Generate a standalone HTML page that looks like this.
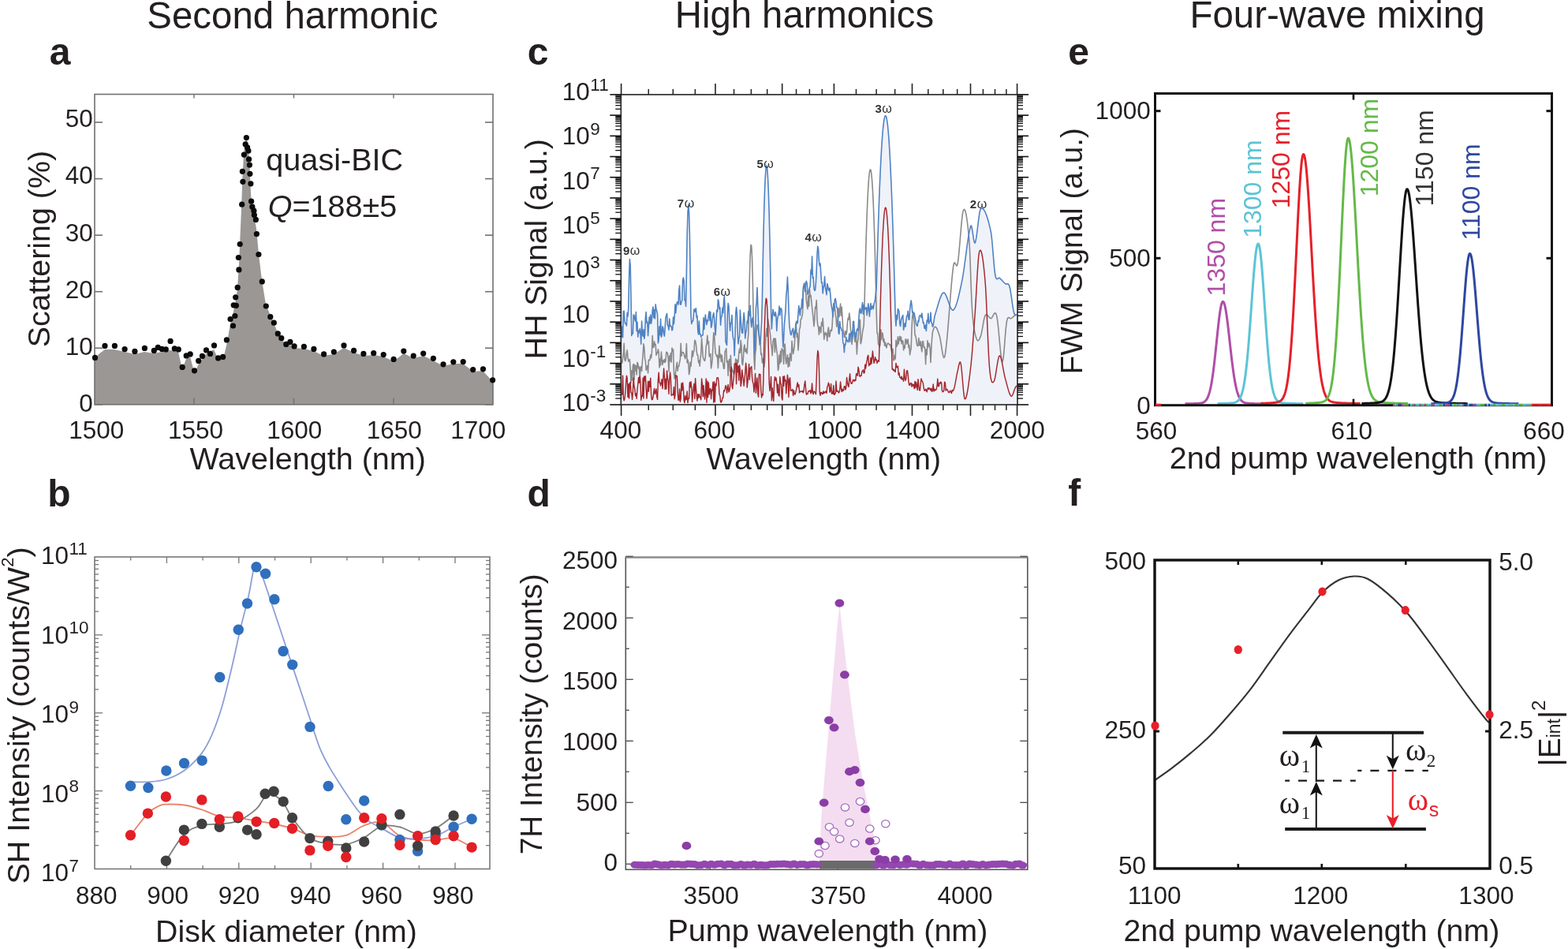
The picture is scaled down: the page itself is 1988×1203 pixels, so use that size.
<!DOCTYPE html>
<html><head><meta charset="utf-8"><title>Nonlinear optics figure</title>
<style>html,body{margin:0;padding:0;background:#fff;}svg{display:block;}</style>
</head><body>
<svg width="1988" height="1203" viewBox="0 0 1988 1203" font-family="'Liberation Sans', Arial, Helvetica, sans-serif" fill="#231f20">
<rect width="1988" height="1203" fill="#fff"/>
<text x="186.33" y="35.8" font-size="47.44">Second harmonic</text>
<text x="855.82" y="34.8" font-size="47.25">High harmonics</text>
<text x="1508.51" y="35.1" font-size="47.42">Four-wave mixing</text>
<text x="62.66" y="81.5" font-size="48" font-weight="bold">a</text>
<text x="60.24" y="641.5" font-size="48" font-weight="bold">b</text>
<text x="668.68" y="81.5" font-size="48" font-weight="bold">c</text>
<text x="668.38" y="641.5" font-size="48" font-weight="bold">d</text>
<text x="1354.18" y="81.5" font-size="48" font-weight="bold">e</text>
<text x="1354.34" y="640.7" font-size="48" font-weight="bold">f</text>
<text x="240.5" y="594.6" font-size="39.53">Wavelength (nm)</text>
<text x="197.06" y="1193.7" font-size="39.29">Disk diameter (nm)</text>
<text x="895.51" y="595" font-size="39.28">Wavelength (nm)</text>
<text x="846.54" y="1193.3" font-size="39.47">Pump wavelength (nm)</text>
<text x="1482.72" y="593.9" font-size="39.5">2nd pump wavelength (nm)</text>
<text x="1424.43" y="1193.4" font-size="39.37">2nd pump wavelength (nm)</text>
<text transform="translate(63.2,440.37) rotate(-90)" font-size="39.37">Scattering (%)</text>
<text transform="translate(693.1,455.44) rotate(-90)" font-size="39.28">HH Signal (a.u.)</text>
<text transform="translate(686.8,1083.34) rotate(-90)" font-size="38.84">7H Intensity (counts)</text>
<text transform="translate(1371.8,474.4) rotate(-90)" font-size="38.78">FWM Signal (a.u.)</text>
<text x="337.32" y="216" font-size="39.61">quasi-BIC</text>
<polygon points="120,512.8 120,456 125,449 133,443 145,443 158,446 171,449 183,446 195,448 205,446 216,444 226,446 231,468 236,455 241,452 246.5,473 252,461 261,449 271,443 277,456 283,455 288,434 292,410 296,395 299,380 301,366 303,335 304.5,300 306,265 307.5,225 309,195 311,178 313,176 315,190 316.5,210 317.5,235 319,260 322,272 325,290 328,322 332,355 337,386 343,400 347,409 352,422 357,430 363,437 368,437 373,441 385,442 398,445 410,451 423,449 436,441 449,447 461,451 474,450 486,452 499,458 512,448 524,454 537,451 549,457 562,464 575,461 587,461 600,471 612,470 625,484 625,512.8" fill="#9b9794"/>
<rect x="120" y="119.5" width="505" height="393.29999999999995" fill="none" stroke="#707070" stroke-width="1.6"/>
<line x1="120" y1="512.8" x2="130" y2="512.8" stroke="#707070" stroke-width="1.6"/>
<line x1="615" y1="512.8" x2="625" y2="512.8" stroke="#707070" stroke-width="1.6"/>
<line x1="120" y1="441.25" x2="130" y2="441.25" stroke="#707070" stroke-width="1.6"/>
<line x1="615" y1="441.25" x2="625" y2="441.25" stroke="#707070" stroke-width="1.6"/>
<line x1="120" y1="369.7" x2="130" y2="369.7" stroke="#707070" stroke-width="1.6"/>
<line x1="615" y1="369.7" x2="625" y2="369.7" stroke="#707070" stroke-width="1.6"/>
<line x1="120" y1="298.15" x2="130" y2="298.15" stroke="#707070" stroke-width="1.6"/>
<line x1="615" y1="298.15" x2="625" y2="298.15" stroke="#707070" stroke-width="1.6"/>
<line x1="120" y1="226.6" x2="130" y2="226.6" stroke="#707070" stroke-width="1.6"/>
<line x1="615" y1="226.6" x2="625" y2="226.6" stroke="#707070" stroke-width="1.6"/>
<line x1="120" y1="155.05" x2="130" y2="155.05" stroke="#707070" stroke-width="1.6"/>
<line x1="615" y1="155.05" x2="625" y2="155.05" stroke="#707070" stroke-width="1.6"/>
<line x1="246" y1="119.5" x2="246" y2="124.5" stroke="#707070" stroke-width="1.4"/>
<line x1="246" y1="504.8" x2="246" y2="512.8" stroke="#707070" stroke-width="1.4"/>
<line x1="372.5" y1="119.5" x2="372.5" y2="124.5" stroke="#707070" stroke-width="1.4"/>
<line x1="372.5" y1="504.8" x2="372.5" y2="512.8" stroke="#707070" stroke-width="1.4"/>
<line x1="499" y1="119.5" x2="499" y2="124.5" stroke="#707070" stroke-width="1.4"/>
<line x1="499" y1="504.8" x2="499" y2="512.8" stroke="#707070" stroke-width="1.4"/>
<circle cx="120.5" cy="453.4" r="3.6" fill="#0b0b0b"/>
<circle cx="133" cy="438.4" r="3.6" fill="#0b0b0b"/>
<circle cx="145.4" cy="438.4" r="3.6" fill="#0b0b0b"/>
<circle cx="158.1" cy="442.7" r="3.6" fill="#0b0b0b"/>
<circle cx="170.9" cy="445.4" r="3.6" fill="#0b0b0b"/>
<circle cx="183.4" cy="441.4" r="3.6" fill="#0b0b0b"/>
<circle cx="195.3" cy="444.4" r="3.6" fill="#0b0b0b"/>
<circle cx="200.3" cy="440.4" r="3.6" fill="#0b0b0b"/>
<circle cx="205.3" cy="442.4" r="3.6" fill="#0b0b0b"/>
<circle cx="210.3" cy="442.9" r="3.6" fill="#0b0b0b"/>
<circle cx="216.1" cy="432.4" r="3.6" fill="#0b0b0b"/>
<circle cx="221.3" cy="441.9" r="3.6" fill="#0b0b0b"/>
<circle cx="226.3" cy="442.9" r="3.6" fill="#0b0b0b"/>
<circle cx="231.2" cy="465.4" r="3.6" fill="#0b0b0b"/>
<circle cx="236.2" cy="450.9" r="3.6" fill="#0b0b0b"/>
<circle cx="241.2" cy="448.9" r="3.6" fill="#0b0b0b"/>
<circle cx="246.5" cy="469.8" r="3.6" fill="#0b0b0b"/>
<circle cx="251.7" cy="457.4" r="3.6" fill="#0b0b0b"/>
<circle cx="256.5" cy="451.4" r="3.6" fill="#0b0b0b"/>
<circle cx="261.5" cy="443.9" r="3.6" fill="#0b0b0b"/>
<circle cx="266.5" cy="448.4" r="3.6" fill="#0b0b0b"/>
<circle cx="271.5" cy="437.9" r="3.6" fill="#0b0b0b"/>
<circle cx="276.6" cy="453.9" r="3.6" fill="#0b0b0b"/>
<circle cx="282.6" cy="452.4" r="3.6" fill="#0b0b0b"/>
<circle cx="287.4" cy="430.9" r="3.6" fill="#0b0b0b"/>
<circle cx="292.1" cy="404.5" r="3.6" fill="#0b0b0b"/>
<circle cx="295.5" cy="413" r="3.6" fill="#0b0b0b"/>
<circle cx="297.9" cy="400.5" r="3.6" fill="#0b0b0b"/>
<circle cx="296.2" cy="386.8" r="3.6" fill="#0b0b0b"/>
<circle cx="299.4" cy="387.3" r="3.6" fill="#0b0b0b"/>
<circle cx="298.7" cy="376.8" r="3.6" fill="#0b0b0b"/>
<circle cx="301.2" cy="364.4" r="3.6" fill="#0b0b0b"/>
<circle cx="302.9" cy="341.9" r="3.6" fill="#0b0b0b"/>
<circle cx="302.4" cy="326.5" r="3.6" fill="#0b0b0b"/>
<circle cx="304.2" cy="309.5" r="3.6" fill="#0b0b0b"/>
<circle cx="306.7" cy="259.2" r="3.6" fill="#0b0b0b"/>
<circle cx="307.9" cy="230.3" r="3.6" fill="#0b0b0b"/>
<circle cx="307.4" cy="217.3" r="3.6" fill="#0b0b0b"/>
<circle cx="309.4" cy="196.1" r="3.6" fill="#0b0b0b"/>
<circle cx="311.2" cy="182.9" r="3.6" fill="#0b0b0b"/>
<circle cx="312.4" cy="174.5" r="3.6" fill="#0b0b0b"/>
<circle cx="313.6" cy="186.9" r="3.6" fill="#0b0b0b"/>
<circle cx="314.9" cy="191.2" r="3.6" fill="#0b0b0b"/>
<circle cx="315.6" cy="201.9" r="3.6" fill="#0b0b0b"/>
<circle cx="316.4" cy="209.1" r="3.6" fill="#0b0b0b"/>
<circle cx="316.9" cy="220.3" r="3.6" fill="#0b0b0b"/>
<circle cx="317.9" cy="232.8" r="3.6" fill="#0b0b0b"/>
<circle cx="318.6" cy="255.2" r="3.6" fill="#0b0b0b"/>
<circle cx="319.9" cy="262.2" r="3.6" fill="#0b0b0b"/>
<circle cx="321.9" cy="267.2" r="3.6" fill="#0b0b0b"/>
<circle cx="322.4" cy="272.6" r="3.6" fill="#0b0b0b"/>
<circle cx="324.4" cy="278.4" r="3.6" fill="#0b0b0b"/>
<circle cx="325.4" cy="296.6" r="3.6" fill="#0b0b0b"/>
<circle cx="327.9" cy="322.5" r="3.6" fill="#0b0b0b"/>
<circle cx="332.3" cy="356.9" r="3.6" fill="#0b0b0b"/>
<circle cx="337.3" cy="388" r="3.6" fill="#0b0b0b"/>
<circle cx="342.8" cy="401.7" r="3.6" fill="#0b0b0b"/>
<circle cx="347.3" cy="409.2" r="3.6" fill="#0b0b0b"/>
<circle cx="352.3" cy="422.9" r="3.6" fill="#0b0b0b"/>
<circle cx="356.8" cy="428.7" r="3.6" fill="#0b0b0b"/>
<circle cx="362.8" cy="436.4" r="3.6" fill="#0b0b0b"/>
<circle cx="367.9" cy="433.4" r="3.6" fill="#0b0b0b"/>
<circle cx="373.1" cy="438.9" r="3.6" fill="#0b0b0b"/>
<circle cx="385.4" cy="439.4" r="3.6" fill="#0b0b0b"/>
<circle cx="397.9" cy="442.4" r="3.6" fill="#0b0b0b"/>
<circle cx="410.6" cy="448.9" r="3.6" fill="#0b0b0b"/>
<circle cx="423.3" cy="446.1" r="3.6" fill="#0b0b0b"/>
<circle cx="436" cy="437.9" r="3.6" fill="#0b0b0b"/>
<circle cx="448.6" cy="444.4" r="3.6" fill="#0b0b0b"/>
<circle cx="460.9" cy="448.4" r="3.6" fill="#0b0b0b"/>
<circle cx="473.7" cy="447.7" r="3.6" fill="#0b0b0b"/>
<circle cx="486.2" cy="449.6" r="3.6" fill="#0b0b0b"/>
<circle cx="499.1" cy="455.4" r="3.6" fill="#0b0b0b"/>
<circle cx="511.8" cy="445.1" r="3.6" fill="#0b0b0b"/>
<circle cx="524.2" cy="451.1" r="3.6" fill="#0b0b0b"/>
<circle cx="536.7" cy="448.1" r="3.6" fill="#0b0b0b"/>
<circle cx="549.4" cy="454.3" r="3.6" fill="#0b0b0b"/>
<circle cx="562" cy="461.8" r="3.6" fill="#0b0b0b"/>
<circle cx="574.8" cy="458.8" r="3.6" fill="#0b0b0b"/>
<circle cx="587.2" cy="458.6" r="3.6" fill="#0b0b0b"/>
<circle cx="599.7" cy="468.6" r="3.6" fill="#0b0b0b"/>
<circle cx="612.5" cy="467.8" r="3.6" fill="#0b0b0b"/>
<circle cx="624.6" cy="481.8" r="3.6" fill="#0b0b0b"/>
<text x="117.9" y="522.4" font-size="31.5" text-anchor="end">0</text>
<text x="117.9" y="450.17" font-size="31.5" text-anchor="end">10</text>
<text x="117.9" y="377.94" font-size="31.5" text-anchor="end">20</text>
<text x="117.9" y="305.71" font-size="31.5" text-anchor="end">30</text>
<text x="117.9" y="233.48" font-size="31.5" text-anchor="end">40</text>
<text x="117.9" y="161.25" font-size="31.5" text-anchor="end">50</text>
<text x="122.2" y="555.9" font-size="31.5" text-anchor="middle">1500</text>
<text x="248" y="555.9" font-size="31.5" text-anchor="middle">1550</text>
<text x="373.3" y="555.9" font-size="31.5" text-anchor="middle">1600</text>
<text x="499.7" y="555.9" font-size="31.5" text-anchor="middle">1650</text>
<text x="606.3" y="555.9" font-size="31.5" text-anchor="middle">1700</text>
<text x="339.8" y="275" font-size="39.5"><tspan font-style="italic">Q</tspan>=188±5</text>
<rect x="120" y="706" width="501" height="395.5" fill="none" stroke="#777777" stroke-width="1.6"/>
<line x1="120" y1="1071.74" x2="125" y2="1071.74" stroke="#777777" stroke-width="1.3"/>
<line x1="616" y1="1071.74" x2="621" y2="1071.74" stroke="#777777" stroke-width="1.3"/>
<line x1="120" y1="1054.32" x2="125" y2="1054.32" stroke="#777777" stroke-width="1.3"/>
<line x1="616" y1="1054.32" x2="621" y2="1054.32" stroke="#777777" stroke-width="1.3"/>
<line x1="120" y1="1041.97" x2="125" y2="1041.97" stroke="#777777" stroke-width="1.3"/>
<line x1="616" y1="1041.97" x2="621" y2="1041.97" stroke="#777777" stroke-width="1.3"/>
<line x1="120" y1="1032.39" x2="125" y2="1032.39" stroke="#777777" stroke-width="1.3"/>
<line x1="616" y1="1032.39" x2="621" y2="1032.39" stroke="#777777" stroke-width="1.3"/>
<line x1="120" y1="1024.56" x2="125" y2="1024.56" stroke="#777777" stroke-width="1.3"/>
<line x1="616" y1="1024.56" x2="621" y2="1024.56" stroke="#777777" stroke-width="1.3"/>
<line x1="120" y1="1017.94" x2="125" y2="1017.94" stroke="#777777" stroke-width="1.3"/>
<line x1="616" y1="1017.94" x2="621" y2="1017.94" stroke="#777777" stroke-width="1.3"/>
<line x1="120" y1="1012.21" x2="125" y2="1012.21" stroke="#777777" stroke-width="1.3"/>
<line x1="616" y1="1012.21" x2="621" y2="1012.21" stroke="#777777" stroke-width="1.3"/>
<line x1="120" y1="1007.15" x2="125" y2="1007.15" stroke="#777777" stroke-width="1.3"/>
<line x1="616" y1="1007.15" x2="621" y2="1007.15" stroke="#777777" stroke-width="1.3"/>
<line x1="120" y1="1002.62" x2="130" y2="1002.62" stroke="#777777" stroke-width="1.3"/>
<line x1="611" y1="1002.62" x2="621" y2="1002.62" stroke="#777777" stroke-width="1.3"/>
<line x1="120" y1="972.86" x2="125" y2="972.86" stroke="#777777" stroke-width="1.3"/>
<line x1="616" y1="972.86" x2="621" y2="972.86" stroke="#777777" stroke-width="1.3"/>
<line x1="120" y1="955.45" x2="125" y2="955.45" stroke="#777777" stroke-width="1.3"/>
<line x1="616" y1="955.45" x2="621" y2="955.45" stroke="#777777" stroke-width="1.3"/>
<line x1="120" y1="943.1" x2="125" y2="943.1" stroke="#777777" stroke-width="1.3"/>
<line x1="616" y1="943.1" x2="621" y2="943.1" stroke="#777777" stroke-width="1.3"/>
<line x1="120" y1="933.51" x2="125" y2="933.51" stroke="#777777" stroke-width="1.3"/>
<line x1="616" y1="933.51" x2="621" y2="933.51" stroke="#777777" stroke-width="1.3"/>
<line x1="120" y1="925.69" x2="125" y2="925.69" stroke="#777777" stroke-width="1.3"/>
<line x1="616" y1="925.69" x2="621" y2="925.69" stroke="#777777" stroke-width="1.3"/>
<line x1="120" y1="919.07" x2="125" y2="919.07" stroke="#777777" stroke-width="1.3"/>
<line x1="616" y1="919.07" x2="621" y2="919.07" stroke="#777777" stroke-width="1.3"/>
<line x1="120" y1="913.33" x2="125" y2="913.33" stroke="#777777" stroke-width="1.3"/>
<line x1="616" y1="913.33" x2="621" y2="913.33" stroke="#777777" stroke-width="1.3"/>
<line x1="120" y1="908.27" x2="125" y2="908.27" stroke="#777777" stroke-width="1.3"/>
<line x1="616" y1="908.27" x2="621" y2="908.27" stroke="#777777" stroke-width="1.3"/>
<line x1="120" y1="903.75" x2="130" y2="903.75" stroke="#777777" stroke-width="1.3"/>
<line x1="611" y1="903.75" x2="621" y2="903.75" stroke="#777777" stroke-width="1.3"/>
<line x1="120" y1="873.99" x2="125" y2="873.99" stroke="#777777" stroke-width="1.3"/>
<line x1="616" y1="873.99" x2="621" y2="873.99" stroke="#777777" stroke-width="1.3"/>
<line x1="120" y1="856.57" x2="125" y2="856.57" stroke="#777777" stroke-width="1.3"/>
<line x1="616" y1="856.57" x2="621" y2="856.57" stroke="#777777" stroke-width="1.3"/>
<line x1="120" y1="844.22" x2="125" y2="844.22" stroke="#777777" stroke-width="1.3"/>
<line x1="616" y1="844.22" x2="621" y2="844.22" stroke="#777777" stroke-width="1.3"/>
<line x1="120" y1="834.64" x2="125" y2="834.64" stroke="#777777" stroke-width="1.3"/>
<line x1="616" y1="834.64" x2="621" y2="834.64" stroke="#777777" stroke-width="1.3"/>
<line x1="120" y1="826.81" x2="125" y2="826.81" stroke="#777777" stroke-width="1.3"/>
<line x1="616" y1="826.81" x2="621" y2="826.81" stroke="#777777" stroke-width="1.3"/>
<line x1="120" y1="820.19" x2="125" y2="820.19" stroke="#777777" stroke-width="1.3"/>
<line x1="616" y1="820.19" x2="621" y2="820.19" stroke="#777777" stroke-width="1.3"/>
<line x1="120" y1="814.46" x2="125" y2="814.46" stroke="#777777" stroke-width="1.3"/>
<line x1="616" y1="814.46" x2="621" y2="814.46" stroke="#777777" stroke-width="1.3"/>
<line x1="120" y1="809.4" x2="125" y2="809.4" stroke="#777777" stroke-width="1.3"/>
<line x1="616" y1="809.4" x2="621" y2="809.4" stroke="#777777" stroke-width="1.3"/>
<line x1="120" y1="804.88" x2="130" y2="804.88" stroke="#777777" stroke-width="1.3"/>
<line x1="611" y1="804.88" x2="621" y2="804.88" stroke="#777777" stroke-width="1.3"/>
<line x1="120" y1="775.11" x2="125" y2="775.11" stroke="#777777" stroke-width="1.3"/>
<line x1="616" y1="775.11" x2="621" y2="775.11" stroke="#777777" stroke-width="1.3"/>
<line x1="120" y1="757.7" x2="125" y2="757.7" stroke="#777777" stroke-width="1.3"/>
<line x1="616" y1="757.7" x2="621" y2="757.7" stroke="#777777" stroke-width="1.3"/>
<line x1="120" y1="745.35" x2="125" y2="745.35" stroke="#777777" stroke-width="1.3"/>
<line x1="616" y1="745.35" x2="621" y2="745.35" stroke="#777777" stroke-width="1.3"/>
<line x1="120" y1="735.76" x2="125" y2="735.76" stroke="#777777" stroke-width="1.3"/>
<line x1="616" y1="735.76" x2="621" y2="735.76" stroke="#777777" stroke-width="1.3"/>
<line x1="120" y1="727.94" x2="125" y2="727.94" stroke="#777777" stroke-width="1.3"/>
<line x1="616" y1="727.94" x2="621" y2="727.94" stroke="#777777" stroke-width="1.3"/>
<line x1="120" y1="721.32" x2="125" y2="721.32" stroke="#777777" stroke-width="1.3"/>
<line x1="616" y1="721.32" x2="621" y2="721.32" stroke="#777777" stroke-width="1.3"/>
<line x1="120" y1="715.58" x2="125" y2="715.58" stroke="#777777" stroke-width="1.3"/>
<line x1="616" y1="715.58" x2="621" y2="715.58" stroke="#777777" stroke-width="1.3"/>
<line x1="120" y1="710.52" x2="125" y2="710.52" stroke="#777777" stroke-width="1.3"/>
<line x1="616" y1="710.52" x2="621" y2="710.52" stroke="#777777" stroke-width="1.3"/>
<line x1="165.7" y1="706" x2="165.7" y2="710.5" stroke="#777777" stroke-width="1.3"/>
<line x1="165.7" y1="1097" x2="165.7" y2="1101.5" stroke="#777777" stroke-width="1.3"/>
<line x1="211.4" y1="706" x2="211.4" y2="714" stroke="#777777" stroke-width="1.3"/>
<line x1="211.4" y1="1093.5" x2="211.4" y2="1101.5" stroke="#777777" stroke-width="1.3"/>
<line x1="257.1" y1="706" x2="257.1" y2="710.5" stroke="#777777" stroke-width="1.3"/>
<line x1="257.1" y1="1097" x2="257.1" y2="1101.5" stroke="#777777" stroke-width="1.3"/>
<line x1="302.8" y1="706" x2="302.8" y2="714" stroke="#777777" stroke-width="1.3"/>
<line x1="302.8" y1="1093.5" x2="302.8" y2="1101.5" stroke="#777777" stroke-width="1.3"/>
<line x1="348.5" y1="706" x2="348.5" y2="710.5" stroke="#777777" stroke-width="1.3"/>
<line x1="348.5" y1="1097" x2="348.5" y2="1101.5" stroke="#777777" stroke-width="1.3"/>
<line x1="394.2" y1="706" x2="394.2" y2="714" stroke="#777777" stroke-width="1.3"/>
<line x1="394.2" y1="1093.5" x2="394.2" y2="1101.5" stroke="#777777" stroke-width="1.3"/>
<line x1="439.9" y1="706" x2="439.9" y2="710.5" stroke="#777777" stroke-width="1.3"/>
<line x1="439.9" y1="1097" x2="439.9" y2="1101.5" stroke="#777777" stroke-width="1.3"/>
<line x1="485.6" y1="706" x2="485.6" y2="714" stroke="#777777" stroke-width="1.3"/>
<line x1="485.6" y1="1093.5" x2="485.6" y2="1101.5" stroke="#777777" stroke-width="1.3"/>
<line x1="531.3" y1="706" x2="531.3" y2="710.5" stroke="#777777" stroke-width="1.3"/>
<line x1="531.3" y1="1097" x2="531.3" y2="1101.5" stroke="#777777" stroke-width="1.3"/>
<line x1="577" y1="706" x2="577" y2="714" stroke="#777777" stroke-width="1.3"/>
<line x1="577" y1="1093.5" x2="577" y2="1101.5" stroke="#777777" stroke-width="1.3"/>
<path d="M165.5,1058.8 C169.15,1054.18 181.35,1037.32 187.4,1031.1 C193.45,1024.88 197.97,1023.42 201.8,1021.5 C205.63,1019.58 205.15,1019.77 210.4,1019.6 C215.65,1019.43 225.72,1019.38 233.3,1020.5 C240.88,1021.62 248.4,1023.9 255.9,1026.3 C263.4,1028.7 270.65,1033.15 278.3,1034.9 C285.95,1036.65 294,1035.85 301.8,1036.8 C309.6,1037.75 317.45,1039.32 325.1,1040.6 C332.75,1041.88 340.13,1042.9 347.7,1044.5 C355.27,1046.1 362.97,1047.82 370.5,1050.2 C378.03,1052.58 385.35,1057.05 392.9,1058.8 C400.45,1060.55 408.15,1060.7 415.8,1060.7 C423.45,1060.7 431.15,1061.18 438.8,1058.8 C446.45,1056.42 454.18,1049.12 461.7,1046.4 C469.22,1043.68 476.37,1040.28 483.9,1042.5 C491.43,1044.72 499.28,1056.03 506.9,1059.7 C514.52,1063.37 522.05,1063.6 529.6,1064.5 C537.15,1065.4 544.62,1065.42 552.2,1065.1 C559.78,1064.78 567.45,1061.1 575.1,1062.6 C582.75,1064.1 594.27,1072.18 598.1,1074.1" fill="none" stroke="#e9836d" stroke-width="1.8"/>
<path d="M210.4,1091.3 C214.22,1085.72 225.72,1065.28 233.3,1057.8 C240.88,1050.32 248.4,1048.62 255.9,1046.4 C263.4,1044.18 270.65,1045.47 278.3,1044.5 C285.95,1043.53 294,1043.8 301.8,1040.6 C309.6,1037.4 319.37,1030.4 325.1,1025.3 C330.83,1020.2 332.53,1012.87 336.2,1010 C339.87,1007.13 343.27,1006.82 347.1,1008.1 C350.93,1009.38 355.32,1012.92 359.2,1017.7 C363.08,1022.48 364.78,1029.32 370.4,1036.8 C376.02,1044.28 385.33,1057.18 392.9,1062.6 C400.47,1068.02 408.15,1068.02 415.8,1069.3 C423.45,1070.58 431.15,1071.57 438.8,1070.3 C446.45,1069.03 454.18,1065.53 461.7,1061.7 C469.22,1057.87 476.37,1049.53 483.9,1047.3 C491.43,1045.07 499.28,1046.7 506.9,1048.3 C514.52,1049.9 522.05,1056.58 529.6,1056.9 C537.15,1057.22 544.62,1054.03 552.2,1050.2 C559.78,1046.37 571.28,1036.62 575.1,1033.9" fill="none" stroke="#7d7d7d" stroke-width="1.8"/>
<path d="M165.5,991.2 C169.37,991.2 180.98,991.82 188.7,991.2 C196.42,990.58 204.08,990.08 211.8,987.5 C219.52,984.92 227.7,981.1 235,975.7 C242.3,970.3 250.02,962.4 255.6,955.1 C261.18,947.8 264.2,941.78 268.5,931.9 C272.8,922.02 277.1,910.4 281.4,895.8 C285.7,881.2 290.43,860.62 294.3,844.3 C298.17,827.98 301.17,812.5 304.6,797.9 C308.03,783.3 312.12,769.15 314.9,756.7 C317.68,744.25 319.58,729.55 321.3,723.2 C323.02,716.85 323.47,717.75 325.2,718.6 C326.93,719.45 329.12,722.38 331.7,728.3 C334.28,734.22 337.48,744.65 340.7,754.1 C343.92,763.55 347.57,774.68 351,785 C354.43,795.32 357.87,805.68 361.3,816 C364.73,826.32 368.17,836.6 371.6,846.9 C375.03,857.2 378.47,867.5 381.9,877.8 C385.33,888.1 388.33,897.1 392.2,908.7 C396.07,920.3 400.8,936.67 405.1,947.4 C409.4,958.13 412.77,963.93 418,973.1 C423.23,982.27 430.55,993.38 436.5,1002.4 C442.45,1011.42 448.6,1020.83 453.7,1027.2 C458.8,1033.57 462,1036.77 467.1,1040.6 C472.2,1044.43 477.67,1046.63 484.3,1050.2 C490.93,1053.77 499.35,1059.83 506.9,1062 C514.45,1064.17 522.05,1063.58 529.6,1063.2 C537.15,1062.82 544.62,1062.18 552.2,1059.7 C559.78,1057.22 567.45,1051.87 575.1,1048.3 C582.75,1044.73 594.27,1039.97 598.1,1038.3" fill="none" stroke="#8d9fd6" stroke-width="1.8"/>
<circle cx="165.5" cy="996.2" r="6.7" fill="#2f6fbd"/>
<circle cx="187.9" cy="998.5" r="6.7" fill="#2f6fbd"/>
<circle cx="210.8" cy="977" r="6.7" fill="#2f6fbd"/>
<circle cx="233.5" cy="967.5" r="6.7" fill="#2f6fbd"/>
<circle cx="256.2" cy="964.1" r="6.7" fill="#2f6fbd"/>
<circle cx="278.7" cy="858.5" r="6.7" fill="#2f6fbd"/>
<circle cx="302.3" cy="798.2" r="6.7" fill="#2f6fbd"/>
<circle cx="313.5" cy="765" r="6.7" fill="#2f6fbd"/>
<circle cx="325" cy="718.7" r="6.7" fill="#2f6fbd"/>
<circle cx="336.6" cy="727.3" r="6.7" fill="#2f6fbd"/>
<circle cx="347.9" cy="759.8" r="6.7" fill="#2f6fbd"/>
<circle cx="359.1" cy="825.5" r="6.7" fill="#2f6fbd"/>
<circle cx="370.7" cy="842.6" r="6.7" fill="#2f6fbd"/>
<circle cx="393" cy="921.4" r="6.7" fill="#2f6fbd"/>
<circle cx="416.2" cy="996.5" r="6.7" fill="#2f6fbd"/>
<circle cx="438.8" cy="1038.7" r="6.7" fill="#2f6fbd"/>
<circle cx="461.7" cy="1015" r="6.7" fill="#2f6fbd"/>
<circle cx="483.9" cy="1046" r="6.7" fill="#2f6fbd"/>
<circle cx="506.9" cy="1064.5" r="6.7" fill="#2f6fbd"/>
<circle cx="529.6" cy="1078.9" r="6.7" fill="#2f6fbd"/>
<circle cx="552.2" cy="1058.8" r="6.7" fill="#2f6fbd"/>
<circle cx="575.1" cy="1048.3" r="6.7" fill="#2f6fbd"/>
<circle cx="598.1" cy="1038.3" r="6.7" fill="#2f6fbd"/>
<circle cx="210.4" cy="1091.3" r="6.7" fill="#404040"/>
<circle cx="233.3" cy="1052.1" r="6.7" fill="#404040"/>
<circle cx="255.9" cy="1044.4" r="6.7" fill="#404040"/>
<circle cx="278.3" cy="1048.3" r="6.7" fill="#404040"/>
<circle cx="301.8" cy="1036.8" r="6.7" fill="#404040"/>
<circle cx="313.6" cy="1052.1" r="6.7" fill="#404040"/>
<circle cx="325.1" cy="1057.8" r="6.7" fill="#404040"/>
<circle cx="336.2" cy="1006.2" r="6.7" fill="#404040"/>
<circle cx="347.1" cy="1003.3" r="6.7" fill="#404040"/>
<circle cx="359.2" cy="1016.1" r="6.7" fill="#404040"/>
<circle cx="370.5" cy="1036.8" r="6.7" fill="#404040"/>
<circle cx="392.9" cy="1062.6" r="6.7" fill="#404040"/>
<circle cx="415.8" cy="1066.4" r="6.7" fill="#404040"/>
<circle cx="438.8" cy="1075" r="6.7" fill="#404040"/>
<circle cx="461.7" cy="1067" r="6.7" fill="#404040"/>
<circle cx="483.9" cy="1045.4" r="6.7" fill="#404040"/>
<circle cx="506.9" cy="1032.4" r="6.7" fill="#404040"/>
<circle cx="529.6" cy="1072.2" r="6.7" fill="#404040"/>
<circle cx="552.2" cy="1054" r="6.7" fill="#404040"/>
<circle cx="575.1" cy="1034" r="6.7" fill="#404040"/>
<circle cx="165.5" cy="1058.8" r="6.7" fill="#e31e25"/>
<circle cx="187.4" cy="1031.1" r="6.7" fill="#e31e25"/>
<circle cx="210.4" cy="1010" r="6.7" fill="#e31e25"/>
<circle cx="233.3" cy="1065.5" r="6.7" fill="#e31e25"/>
<circle cx="255.9" cy="1013.9" r="6.7" fill="#e31e25"/>
<circle cx="278.3" cy="1038.7" r="6.7" fill="#e31e25"/>
<circle cx="301.8" cy="1034.9" r="6.7" fill="#e31e25"/>
<circle cx="325.1" cy="1041.6" r="6.7" fill="#e31e25"/>
<circle cx="347.7" cy="1043.5" r="6.7" fill="#e31e25"/>
<circle cx="370.5" cy="1050.2" r="6.7" fill="#e31e25"/>
<circle cx="392.9" cy="1077.9" r="6.7" fill="#e31e25"/>
<circle cx="415.8" cy="1072.2" r="6.7" fill="#e31e25"/>
<circle cx="438.8" cy="1086.5" r="6.7" fill="#e31e25"/>
<circle cx="461.7" cy="1036.8" r="6.7" fill="#e31e25"/>
<circle cx="483.9" cy="1037.8" r="6.7" fill="#e31e25"/>
<circle cx="506.9" cy="1071.2" r="6.7" fill="#e31e25"/>
<circle cx="529.6" cy="1059.7" r="6.7" fill="#e31e25"/>
<circle cx="552.2" cy="1064.5" r="6.7" fill="#e31e25"/>
<circle cx="575.1" cy="1059.7" r="6.7" fill="#e31e25"/>
<circle cx="598.1" cy="1074.1" r="6.7" fill="#e31e25"/>
<text x="87.1" y="1117.3" font-size="31.5" text-anchor="end">10</text>
<text x="87.5" y="1105" font-size="22.5">7</text>
<text x="87.1" y="1016.7" font-size="31.5" text-anchor="end">10</text>
<text x="87.5" y="1004.4" font-size="22.5">8</text>
<text x="87.1" y="916.1" font-size="31.5" text-anchor="end">10</text>
<text x="87.5" y="903.8" font-size="22.5">9</text>
<text x="87.1" y="815.5" font-size="31.5" text-anchor="end">10</text>
<text x="87.5" y="803.2" font-size="22.5">10</text>
<text x="87.1" y="714.9" font-size="31.5" text-anchor="end">10</text>
<text x="87.5" y="702.6" font-size="22.5">11</text>
<text x="122.25" y="1146.2" font-size="31.5" text-anchor="middle">880</text>
<text x="212.65" y="1146.2" font-size="31.5" text-anchor="middle">900</text>
<text x="303.05" y="1146.2" font-size="31.5" text-anchor="middle">920</text>
<text x="393.45" y="1146.2" font-size="31.5" text-anchor="middle">940</text>
<text x="483.85" y="1146.2" font-size="31.5" text-anchor="middle">960</text>
<text x="574.25" y="1146.2" font-size="31.5" text-anchor="middle">980</text>
<text transform="translate(36.8,907) rotate(-90)" font-size="39.5" text-anchor="middle">SH Intensity (counts/W<tspan dy="-20" font-size="22">2</tspan><tspan dy="20">)</tspan></text>
<polygon points="788,513 788,427.73 788.8,414.1 789.6,427.76 790.4,394.61 791.2,394.31 792,407.36 792.8,410.39 793.6,410.03 794.4,413.03 795.2,396.53 796,401.03 796.8,390.36 797.6,352.6 798.4,328.6 799.2,336.6 800,376.6 800.8,425.37 801.6,422.32 802.4,422.8 803.2,398.96 804,399.57 804.8,404.92 805.6,407.18 806.4,395.63 807.2,419.75 808,408.28 808.8,427.1 809.6,419.35 810.4,421.84 811.2,416.78 812,422.85 812.8,436.2 813.6,407.03 814.4,423.31 815.2,426.2 816,417.67 816.8,429.47 817.6,424.77 818.4,402.65 819.2,395.43 820,409.37 820.8,407.87 821.6,425.72 822.4,414.04 823.2,402.14 824,410.09 824.8,399.14 825.6,410.05 826.4,405.19 827.2,393.65 828,388.96 828.8,402.66 829.6,392.63 830.4,403.99 831.2,385.74 832,391.93 832.8,394.37 833.6,398.34 834.4,434.97 835.2,430.77 836,413.86 836.8,424.59 837.6,404.24 838.4,427.23 839.2,425.06 840,413.9 840.8,415.9 841.6,423.54 842.4,426.1 843.2,415.36 844,402.78 844.8,399.77 845.6,397.44 846.4,411.91 847.2,413.23 848,418.18 848.8,404.11 849.6,413.44 850.4,413.11 851.2,413.77 852,418.99 852.8,417.24 853.6,401.98 854.4,410.59 855.2,400.74 856,385.83 856.8,396.61 857.6,387.4 858.4,383.21 859.2,382.74 860,386.07 860.8,368.16 861.6,361.99 862.4,385.54 863.2,386.17 864,382.12 864.8,380.59 865.6,355.1 866.4,351.96 867.2,356.36 868,380.69 868.8,380.23 869.6,388.47 870.4,345.01 871.2,297.67 872,269.27 872.8,259.8 873.6,269.27 874.4,297.67 875.2,345.01 876,398.91 876.8,410.49 877.6,407.31 878.4,407.28 879.2,401.68 880,392.01 880.8,392.06 881.6,395.41 882.4,390.79 883.2,402.46 884,400.4 884.8,419.88 885.6,423.94 886.4,407.04 887.2,423.34 888,423.26 888.8,427.09 889.6,425.31 890.4,425.22 891.2,424.65 892,402.72 892.8,417.4 893.6,406.35 894.4,399.13 895.2,406.41 896,411.53 896.8,405.68 897.6,407.04 898.4,399.12 899.2,394.82 900,406.29 900.8,395.49 901.6,415.25 902.4,412.84 903.2,405.12 904,399.85 904.8,396.51 905.6,403.95 906.4,415.92 907.2,424.65 908,408.84 908.8,393.11 909.6,395.14 910.4,379.85 911.2,382.45 912,391.78 912.8,389.77 913.6,412.1 914.4,402.1 915.2,400.83 916,390.23 916.8,396.63 917.6,381.94 918.4,375.33 919.2,395.16 920,433.04 920.8,435.6 921.6,437.43 922.4,396.08 923.2,384.51 924,388.11 924.8,406.59 925.6,419.11 926.4,409.74 927.2,409.73 928,399.43 928.8,421.36 929.6,429.21 930.4,430.03 931.2,450.95 932,426.49 932.8,396.77 933.6,389.43 934.4,396.72 935.2,420.67 936,436.02 936.8,429.5 937.6,426.43 938.4,393.02 939.2,406.18 940,416.07 940.8,422.27 941.6,422.21 942.4,405.45 943.2,396.55 944,405.04 944.8,428.9 945.6,421.55 946.4,418.42 947.2,407.06 948,409.38 948.8,394.69 949.6,398.81 950.4,400.22 951.2,387.34 952,407.2 952.8,414.69 953.6,404.96 954.4,402.6 955.2,410.4 956,418.94 956.8,448.17 957.6,430.38 958.4,390.45 959.2,383.58 960,364.63 960.8,386.95 961.6,408.39 962.4,424.55 963.2,431 964,436 964.8,420.82 965.6,408.05 966.4,381.49 967.2,335.23 968,296.22 968.8,264.48 969.6,239.99 970.4,222.76 971.2,212.78 972,210.06 972.8,214.59 973.6,226.38 974.4,245.43 975.2,271.73 976,305.29 976.8,346.11 977.6,394.18 978.4,416.95 979.2,402.64 980,392.31 980.8,396.04 981.6,400.02 982.4,400.48 983.2,395.62 984,400.98 984.8,419.49 985.6,405.3 986.4,400.8 987.2,397.23 988,388.05 988.8,399.78 989.6,390.71 990.4,391.04 991.2,393.82 992,420.66 992.8,439.63 993.6,430.35 994.4,411.59 995.2,402.46 996,392.83 996.8,374.47 997.6,366.5 998.4,351.07 999.2,366.37 1000,393.93 1000.8,411.75 1001.6,418.48 1002.4,423.91 1003.2,424.56 1004,420.05 1004.8,417.78 1005.6,416.22 1006.4,427.77 1007.2,423.07 1008,418.77 1008.8,422.33 1009.6,407.91 1010.4,407.15 1011.2,409.68 1012,397.57 1012.8,387.61 1013.6,394.49 1014.4,399.84 1015.2,390.6 1016,391.4 1016.8,379.19 1017.6,389.25 1018.4,363.9 1019.2,362.49 1020,360.76 1020.8,369.67 1021.6,358.53 1022.4,356.36 1023.2,359.46 1024,373.53 1024.8,370.26 1025.6,368.82 1026.4,364.55 1027.2,363.4 1028,342.3 1028.8,347.63 1029.6,325.09 1030.4,352.28 1031.2,351.46 1032,365.67 1032.8,368.39 1033.6,367.67 1034.4,358.69 1035.2,343.64 1036,321.77 1036.8,312.39 1037.6,315.52 1038.4,331.14 1039.2,337 1040,334.01 1040.8,347.28 1041.6,358.5 1042.4,357.91 1043.2,371.99 1044,364.35 1044.8,361.89 1045.6,350.46 1046.4,364.04 1047.2,368.89 1048,373.68 1048.8,359.58 1049.6,362.48 1050.4,367.52 1051.2,368.43 1052,365.11 1052.8,373.08 1053.6,383.5 1054.4,389.01 1055.2,392.77 1056,401.67 1056.8,384.75 1057.6,390.08 1058.4,379.71 1059.2,378.35 1060,382.93 1060.8,389.64 1061.6,390.14 1062.4,401.17 1063.2,421.88 1064,423.3 1064.8,407.66 1065.6,415.39 1066.4,415.75 1067.2,419.17 1068,419.19 1068.8,434.86 1069.6,435.44 1070.4,446.81 1071.2,436.78 1072,436.92 1072.8,427.28 1073.6,432.16 1074.4,431.45 1075.2,433.83 1076,431.15 1076.8,422.93 1077.6,433.4 1078.4,422.28 1079.2,422.83 1080,420.84 1080.8,427.18 1081.6,407.88 1082.4,407.24 1083.2,418.51 1084,428.27 1084.8,426.58 1085.6,426.75 1086.4,417.93 1087.2,416.81 1088,419.06 1088.8,404.69 1089.6,393.9 1090.4,391.05 1091.2,397.01 1092,396.95 1092.8,389.23 1093.6,383.48 1094.4,398.14 1095.2,386.57 1096,390.56 1096.8,392.1 1097.6,390.16 1098.4,389.85 1099.2,399.75 1100,393.14 1100.8,384.8 1101.6,390.59 1102.4,401.23 1103.2,391.95 1104,384.66 1104.8,392.28 1105.6,389.1 1106.4,387.86 1107.2,391.68 1108,385.44 1108.8,383.21 1109.6,379.44 1110.4,371.12 1111.2,363.97 1112,334.78 1112.8,307.69 1113.6,282.71 1114.4,259.83 1115.2,239.06 1116,220.38 1116.8,203.82 1117.6,189.35 1118.4,176.99 1119.2,166.73 1120,158.58 1120.8,152.53 1121.6,148.59 1122.4,146.75 1123.2,147.01 1124,149.38 1124.8,153.85 1125.6,160.42 1126.4,169.1 1127.2,179.88 1128,192.77 1128.8,207.76 1129.6,224.85 1130.4,244.05 1131.2,265.35 1132,288.76 1132.8,314.27 1133.6,341.88 1134.4,371.6 1135.2,401.16 1136,413.28 1136.8,399.44 1137.6,404.76 1138.4,391.59 1139.2,392.67 1140,395.26 1140.8,410.51 1141.6,413.58 1142.4,406.55 1143.2,403.26 1144,401.22 1144.8,399.59 1145.6,418.31 1146.4,413.65 1147.2,409.67 1148,414.16 1148.8,406.63 1149.6,400.33 1150.4,400.74 1151.2,394.27 1152,405.02 1152.8,405.17 1153.6,392.24 1154.4,385.27 1155.2,380.98 1156,386.59 1156.8,396.32 1157.6,395.34 1158.4,399.05 1159.2,396.88 1160,402.31 1160.8,405.37 1161.6,411.02 1162.4,412.75 1163.2,413.27 1164,406.91 1164.8,407.62 1165.6,400.29 1166.4,400.07 1167.2,399.62 1168,402.38 1168.8,397.13 1169.6,403.7 1170.4,409.28 1171.2,408.82 1172,415.66 1172.8,416.68 1173.6,411.89 1174.4,419.55 1175.2,405.96 1176,407.82 1176.8,397.38 1177.6,410.29 1178.4,407.79 1179.2,407.14 1180,396.04 1180.8,408.66 1181.6,409.84 1182.4,414.14 1183.2,412.47 1184,407.43 1184.8,401.87 1185.6,398.75 1186.4,396.16 1187.2,393.46 1188,390.71 1188.8,387.96 1189.6,385.26 1190.4,382.65 1191.2,380.18 1192,377.9 1192.8,375.86 1193.6,374.11 1194.4,372.7 1195.2,371.67 1196,371.07 1196.8,371 1197.6,371.53 1198.4,372.56 1199.2,374.03 1200,375.83 1200.8,377.88 1201.6,380.1 1202.4,382.39 1203.2,384.67 1204,386.85 1204.8,388.84 1205.6,390.56 1206.4,391.91 1207.2,392.82 1208,393.19 1208.8,392.93 1209.6,392.14 1210.4,390.92 1211.2,389.31 1212,387.33 1212.8,385.02 1213.6,382.41 1214.4,379.54 1215.2,376.42 1216,373.1 1216.8,369.61 1217.6,365.98 1218.4,362.24 1219.2,358.41 1220,354.5 1220.8,350.03 1221.6,344.99 1222.4,339.51 1223.2,333.7 1224,327.7 1224.8,321.62 1225.6,315.59 1226.4,309.74 1227.2,304.19 1228,299.06 1228.8,294.47 1229.6,290.56 1230.4,287.44 1231.2,285.87 1232,287.73 1232.8,292.02 1233.6,297.48 1234.4,302.84 1235.2,306.84 1236,308.21 1236.8,306.34 1237.6,302.41 1238.4,297.04 1239.2,290.77 1240,284.14 1240.8,277.7 1241.6,272 1242.4,267.58 1243.2,264.99 1244,264.32 1244.8,264.16 1245.6,264.34 1246.4,264.86 1247.2,265.69 1248,266.84 1248.8,268.28 1249.6,270 1250.4,271.99 1251.2,274.24 1252,276.74 1252.8,279.46 1253.6,282.41 1254.4,285.56 1255.2,288.91 1256,292.43 1256.8,296.76 1257.6,303.79 1258.4,312.75 1259.2,322.62 1260,332.39 1260.8,341.03 1261.6,347.53 1262.4,351.31 1263.2,353.21 1264,353.77 1264.8,353.46 1265.6,352.79 1266.4,352.25 1267.2,352.32 1268,353.03 1268.8,353.8 1269.6,354.62 1270.4,355.46 1271.2,356.32 1272,357.17 1272.8,358 1273.6,358.79 1274.4,359.53 1275.2,360.03 1276,360.06 1276.8,359.89 1277.6,359.82 1278.4,360.17 1279.2,361.22 1280,363.3 1280.8,366.78 1281.6,371.53 1282.4,377.03 1283.2,382.8 1284,388.32 1284.8,393.11 1285.6,396.66 1286.4,398.62 1287.2,399.34 1288,399.31 1288.8,399.03 1289,513" fill="#f0f2f9"/>
<polyline points="788,456.54 788.8,460.05 789.6,453.18 790.4,449.44 791.2,435.2 792,455.42 792.8,457.69 793.6,454.56 794.4,447.63 795.2,443.82 796,452.89 796.8,458.15 797.6,457.57 798.4,455.6 799.2,468.75 800,485.26 800.8,469.92 801.6,482.05 802.4,463.66 803.2,461.6 804,481.64 804.8,462.3 805.6,470.07 806.4,463.85 807.2,474.84 808,459.29 808.8,461.23 809.6,467.27 810.4,464.92 811.2,482.12 812,466.52 812.8,464.63 813.6,470.51 814.4,458.68 815.2,449.04 816,435.86 816.8,440.55 817.6,454.65 818.4,457.58 819.2,469.19 820,466.34 820.8,463.61 821.6,472.94 822.4,455.99 823.2,456.71 824,456.28 824.8,449.94 825.6,453.82 826.4,447.67 827.2,425.66 828,440.25 828.8,440.45 829.6,432.9 830.4,437.71 831.2,436.29 832,450.39 832.8,447.34 833.6,447.46 834.4,442.82 835.2,447.02 836,466.01 836.8,454.99 837.6,463.24 838.4,445.99 839.2,455.14 840,462.32 840.8,456.84 841.6,459.22 842.4,455.48 843.2,459.52 844,457.55 844.8,446.33 845.6,446.73 846.4,447.65 847.2,454.56 848,471.06 848.8,451.13 849.6,457.34 850.4,447.44 851.2,459.21 852,441.02 852.8,445.79 853.6,442.97 854.4,470.49 855.2,480.01 856,476.8 856.8,470.54 857.6,463.74 858.4,459.36 859.2,470.11 860,464.44 860.8,464.09 861.6,459.3 862.4,455.91 863.2,435.21 864,451.3 864.8,446.62 865.6,446.87 866.4,446.9 867.2,448.98 868,452.43 868.8,454.61 869.6,449.73 870.4,435.63 871.2,460.05 872,456.11 872.8,459.58 873.6,474.68 874.4,470.96 875.2,459.33 876,464.43 876.8,455.96 877.6,444.64 878.4,451.91 879.2,446.15 880,444.56 880.8,431.36 881.6,432.12 882.4,436.13 883.2,445.5 884,450.13 884.8,450.28 885.6,459.68 886.4,456.7 887.2,464.2 888,454.68 888.8,447.41 889.6,428.78 890.4,439.08 891.2,452.37 892,454.77 892.8,456.65 893.6,457.45 894.4,452.14 895.2,438.76 896,436.64 896.8,425.31 897.6,435.82 898.4,432.78 899.2,451.74 900,451.71 900.8,448.46 901.6,466.93 902.4,462.24 903.2,455.45 904,437.05 904.8,421.72 905.6,424.34 906.4,438.39 907.2,447.94 908,449.55 908.8,452.4 909.6,450.21 910.4,466.62 911.2,453.21 912,438.24 912.8,453.23 913.6,449.1 914.4,458.42 915.2,450.19 916,457.15 916.8,461.42 917.6,467.28 918.4,467 919.2,445.33 920,444.52 920.8,441.8 921.6,459.25 922.4,457.46 923.2,476.38 924,458.77 924.8,455.52 925.6,470.48 926.4,450.46 927.2,465.36 928,467.62 928.8,471.24 929.6,470.36 930.4,474.36 931.2,472.55 932,464.72 932.8,454.74 933.6,456.47 934.4,462.51 935.2,456.35 936,459.24 936.8,447.12 937.6,442.36 938.4,447.27 939.2,431.38 940,438.76 940.8,460.08 941.6,462.73 942.4,453.57 943.2,440.38 944,437.08 944.8,445.33 945.6,446.09 946.4,442.1 947.2,448.23 948,432.77 948.8,424.53 949.6,390.4 950.4,349.51 951.2,322.84 952,310.4 952.8,312.18 953.6,328.18 954.4,358.4 955.2,402.84 956,452.25 956.8,468.43 957.6,447.28 958.4,442.7 959.2,416.58 960,411.75 960.8,415.63 961.6,420.1 962.4,426.69 963.2,437.19 964,435.11 964.8,449.34 965.6,447.96 966.4,459.9 967.2,454.65 968,458.5 968.8,465.33 969.6,458.5 970.4,437.63 971.2,424.15 972,416.39 972.8,426.56 973.6,404.31 974.4,410.83 975.2,413.62 976,419.31 976.8,425.65 977.6,435.92 978.4,441.07 979.2,450.58 980,433.27 980.8,429.62 981.6,428.78 982.4,446.52 983.2,429.34 984,437.61 984.8,444.9 985.6,449.89 986.4,469.46 987.2,466.6 988,450.38 988.8,460.85 989.6,445.03 990.4,458.77 991.2,441.78 992,443.18 992.8,444.58 993.6,461.52 994.4,438.14 995.2,436.08 996,453.55 996.8,461.11 997.6,455.23 998.4,449.78 999.2,465.26 1000,453.74 1000.8,464.21 1001.6,447.99 1002.4,449.87 1003.2,457.46 1004,432.26 1004.8,441.57 1005.6,448.56 1006.4,444.22 1007.2,438.58 1008,424.68 1008.8,409.94 1009.6,416.96 1010.4,427.39 1011.2,422.48 1012,443.9 1012.8,433.22 1013.6,417.27 1014.4,415.44 1015.2,404.94 1016,404.38 1016.8,400.96 1017.6,397.1 1018.4,369.37 1019.2,359.94 1020,358.97 1020.8,366.6 1021.6,367.44 1022.4,381.2 1023.2,386.83 1024,391.66 1024.8,375.36 1025.6,388.3 1026.4,366.25 1027.2,375.89 1028,374.45 1028.8,382.11 1029.6,390 1030.4,397.18 1031.2,404.63 1032,413.75 1032.8,404.85 1033.6,389.4 1034.4,390.88 1035.2,380.59 1036,404.05 1036.8,412.35 1037.6,414.43 1038.4,424.16 1039.2,414.39 1040,416.25 1040.8,421.81 1041.6,408.53 1042.4,413.2 1043.2,403.51 1044,416.82 1044.8,430.22 1045.6,424.23 1046.4,421.29 1047.2,424.33 1048,422.96 1048.8,432.17 1049.6,419.09 1050.4,414.96 1051.2,427.03 1052,426.56 1052.8,419.06 1053.6,418.18 1054.4,419.51 1055.2,412.21 1056,394.68 1056.8,394.67 1057.6,390.72 1058.4,388.22 1059.2,399.45 1060,402.25 1060.8,414.23 1061.6,408.74 1062.4,403.84 1063.2,390.47 1064,401.67 1064.8,393.87 1065.6,385.06 1066.4,400.27 1067.2,389.26 1068,401.92 1068.8,417.78 1069.6,420.03 1070.4,427.26 1071.2,427.63 1072,419.63 1072.8,424.28 1073.6,421.76 1074.4,409.55 1075.2,403.36 1076,405.27 1076.8,396.94 1077.6,403.66 1078.4,418.03 1079.2,421.04 1080,436.53 1080.8,430.75 1081.6,417.98 1082.4,422.71 1083.2,424.71 1084,433.4 1084.8,421.44 1085.6,429.48 1086.4,449.05 1087.2,433.96 1088,430.67 1088.8,419 1089.6,405.73 1090.4,405.42 1091.2,435.68 1092,432.98 1092.8,427.65 1093.6,420.3 1094.4,416.53 1095.2,412.23 1096,387.83 1096.8,352.87 1097.6,321.84 1098.4,294.76 1099.2,271.61 1100,252.4 1100.8,237.14 1101.6,225.81 1102.4,218.42 1103.2,214.98 1104,215.47 1104.8,219.9 1105.6,228.27 1106.4,240.58 1107.2,256.84 1108,277.03 1108.8,301.16 1109.6,329.23 1110.4,361.24 1111.2,397.19 1112,422.4 1112.8,422.81 1113.6,436.47 1114.4,436.72 1115.2,439.53 1116,436.77 1116.8,417.88 1117.6,430.72 1118.4,421.72 1119.2,423.3 1120,433.3 1120.8,429.67 1121.6,438.23 1122.4,433.95 1123.2,438.49 1124,440.83 1124.8,436.43 1125.6,435.12 1126.4,435.27 1127.2,436.12 1128,437.53 1128.8,436.82 1129.6,440.69 1130.4,444.94 1131.2,446.84 1132,442.26 1132.8,456.51 1133.6,456.6 1134.4,450.2 1135.2,454.97 1136,431.38 1136.8,439.34 1137.6,437.72 1138.4,426.72 1139.2,436 1140,429.97 1140.8,426.29 1141.6,431.89 1142.4,427.07 1143.2,435.95 1144,431.84 1144.8,432.19 1145.6,443.93 1146.4,437.91 1147.2,441.21 1148,429.98 1148.8,429.94 1149.6,436.15 1150.4,432.31 1151.2,430 1152,440.68 1152.8,437.6 1153.6,449.75 1154.4,444.76 1155.2,441.86 1156,415.86 1156.8,401.48 1157.6,396.4 1158.4,402.93 1159.2,408.24 1160,424.62 1160.8,425.52 1161.6,430.08 1162.4,436.43 1163.2,438.41 1164,438.55 1164.8,428.52 1165.6,436.84 1166.4,438.26 1167.2,432.61 1168,440.44 1168.8,445.84 1169.6,432.97 1170.4,432.48 1171.2,440.41 1172,439.76 1172.8,443 1173.6,461.76 1174.4,442.83 1175.2,449.67 1176,431.89 1176.8,439.89 1177.6,435.03 1178.4,436.66 1179.2,442.74 1180,459.57 1180.8,441.52 1181.6,429.03 1182.4,420.88 1183.2,418.1 1184,416.09 1184.8,414.72 1185.6,414.16 1186.4,414.43 1187.2,415.39 1188,416.9 1188.8,418.82 1189.6,420.99 1190.4,423.29 1191.2,425.62 1192,429.11 1192.8,433.76 1193.6,438.98 1194.4,444.16 1195.2,448.71 1196,452.03 1196.8,453.52 1197.6,452.57 1198.4,448.81 1199.2,443.23 1200,436.26 1200.8,428.14 1201.6,419.11 1202.4,409.41 1203.2,399.28 1204,388.97 1204.8,378.73 1205.6,368.79 1206.4,359.39 1207.2,350.78 1208,343.2 1208.8,336.91 1209.6,333.48 1210.4,332.94 1211.2,334.13 1212,335.87 1212.8,337 1213.6,336.35 1214.4,332.81 1215.2,326.63 1216,318.66 1216.8,309.55 1217.6,299.91 1218.4,290.4 1219.2,281.63 1220,274.24 1220.8,268.86 1221.6,266.11 1222.4,265.4 1223.2,266.08 1224,268.09 1224.8,271.37 1225.6,275.86 1226.4,281.5 1227.2,288.22 1228,295.98 1228.8,304.7 1229.6,319.06 1230.4,340.39 1231.2,363.67 1232,383.82 1232.8,396.5 1233.6,405.42 1234.4,412.45 1235.2,417.9 1236,422.11 1236.8,425.39 1237.6,428.08 1238.4,430.35 1239.2,431.59 1240,431.85 1240.8,431.29 1241.6,430.08 1242.4,428.39 1243.2,426.39 1244,423.97 1244.8,420.37 1245.6,415.96 1246.4,411.26 1247.2,406.77 1248,402.98 1248.8,400.4 1249.6,399.21 1250.4,398.79 1251.2,398.97 1252,399.58 1252.8,400.47 1253.6,401.48 1254.4,402.45 1255.2,403.23 1256,403.66 1256.8,403.53 1257.6,402.67 1258.4,401.34 1259.2,399.8 1260,398.33 1260.8,397.21 1261.6,396.72 1262.4,397.12 1263.2,398.69 1264,401.84 1264.8,407.29 1265.6,414.52 1266.4,422.87 1267.2,431.66 1268,440.21 1268.8,447.85 1269.6,453.9 1270.4,457.69 1271.2,458.39 1272,454.54 1272.8,447.07 1273.6,437.42 1274.4,427.02 1275.2,417.34 1276,409.81 1276.8,405.55 1277.6,403.34 1278.4,402.49 1279.2,402.57 1280,403.11 1280.8,403.68 1281.6,403.84 1282.4,403.34 1283.2,402.73 1284,402.08 1284.8,401.41 1285.6,400.75 1286.4,400.11 1287.2,399.52 1288,398.99 1288.8,398.54" fill="none" stroke="#8a8a8a" stroke-width="1.6" stroke-linejoin="round"/>
<polyline points="788,500.22 788.8,500.08 789.6,476.21 790.4,504.15 791.2,507.88 792,505.61 792.8,498.26 793.6,486.16 794.4,476.31 795.2,478.94 796,503.44 796.8,486.72 797.6,505.03 798.4,485.82 799.2,484.58 800,497.45 800.8,498.31 801.6,506.44 802.4,496.67 803.2,478.87 804,489.78 804.8,492.86 805.6,501.59 806.4,498.65 807.2,505.2 808,494.3 808.8,487.23 809.6,478.74 810.4,485.4 811.2,476.89 812,484.08 812.8,507.32 813.6,501.72 814.4,502.24 815.2,479.02 816,505.02 816.8,476.88 817.6,482.82 818.4,476.84 819.2,493.35 820,505.12 820.8,496.76 821.6,483.54 822.4,496.17 823.2,483.2 824,490.3 824.8,479.21 825.6,500.63 826.4,506.65 827.2,506.54 828,503.22 828.8,497.08 829.6,492.48 830.4,499.59 831.2,496.95 832,492.94 832.8,503.13 833.6,506.37 834.4,481.63 835.2,472.23 836,485.04 836.8,485.38 837.6,488.99 838.4,484.97 839.2,480.61 840,492.65 840.8,481.05 841.6,467.09 842.4,477.48 843.2,493.52 844,480.53 844.8,493.28 845.6,470.03 846.4,479.71 847.2,483.38 848,499.37 848.8,480.21 849.6,471.97 850.4,480.09 851.2,501.27 852,500.77 852.8,500.03 853.6,500.61 854.4,490.4 855.2,505.75 856,500.92 856.8,475.84 857.6,476.28 858.4,476.64 859.2,496.08 860,507.29 860.8,507.12 861.6,492.94 862.4,509.25 863.2,505.3 864,485.89 864.8,494.93 865.6,485 866.4,491.91 867.2,507.75 868,510.65 868.8,501.66 869.6,506.84 870.4,505.93 871.2,495.94 872,510.65 872.8,504.93 873.6,505.16 874.4,484.81 875.2,490.93 876,483.7 876.8,491.47 877.6,509.41 878.4,499.55 879.2,491.78 880,486.53 880.8,505.5 881.6,479.61 882.4,491.59 883.2,502.46 884,508.09 884.8,499.83 885.6,504.3 886.4,499.61 887.2,502.55 888,504.14 888.8,506.75 889.6,480 890.4,487.32 891.2,502.6 892,488.43 892.8,499.53 893.6,506.04 894.4,498.81 895.2,480.02 896,510.29 896.8,482.86 897.6,503.61 898.4,484.97 899.2,499.88 900,493.63 900.8,492.5 901.6,505.75 902.4,494.2 903.2,494.93 904,484.24 904.8,510.29 905.6,484.02 906.4,509.57 907.2,486.43 908,488.91 908.8,479.02 909.6,478.9 910.4,478.79 911.2,484.95 912,499.87 912.8,501.25 913.6,509.57 914.4,510.04 915.2,508.1 916,504.11 916.8,504.25 917.6,494.99 918.4,495.91 919.2,492.89 920,488.65 920.8,490.17 921.6,498.14 922.4,492.58 923.2,487.45 924,496.92 924.8,495.46 925.6,490.36 926.4,471 927.2,465.31 928,488.89 928.8,492.88 929.6,484.01 930.4,478.5 931.2,461.15 932,460.9 932.8,460.67 933.6,486.68 934.4,460.29 935.2,471.47 936,463.96 936.8,482.32 937.6,463.06 938.4,469.73 939.2,489.61 940,485.45 940.8,469 941.6,475.76 942.4,481.23 943.2,489.22 944,481.41 944.8,472.63 945.6,460.3 946.4,467.42 947.2,491.24 948,484.34 948.8,475.08 949.6,461.44 950.4,481.55 951.2,466.54 952,466.37 952.8,464.68 953.6,478.54 954.4,484.55 955.2,486.46 956,496.91 956.8,487.59 957.6,473.43 958.4,498.23 959.2,488.33 960,478.94 960.8,499.13 961.6,503.13 962.4,474.23 963.2,474.51 964,474.77 964.8,494.63 965.6,503.92 966.4,499.63 967.2,501.07 968,477.5 968.8,437.01 969.6,406.97 970.4,387.38 971.2,378.23 972,379.54 972.8,391.3 973.6,413.5 974.4,446.15 975.2,485.31 976,495.46 976.8,487.84 977.6,477.42 978.4,507.73 979.2,491.78 980,501.31 980.8,508.45 981.6,486.38 982.4,477.69 983.2,482.01 984,478.95 984.8,485.8 985.6,497.99 986.4,487.17 987.2,501.19 988,501.9 988.8,477.67 989.6,485.63 990.4,487.74 991.2,504.27 992,506.96 992.8,477.12 993.6,489.36 994.4,476.68 995.2,483.01 996,481.7 996.8,498.75 997.6,487.11 998.4,475.23 999.2,481.68 1000,503.4 1000.8,481.25 1001.6,478.82 1002.4,495.24 1003.2,495.14 1004,494.34 1004.8,493.5 1005.6,501.46 1006.4,494.94 1007.2,499.02 1008,500.14 1008.8,497.38 1009.6,493.57 1010.4,488.92 1011.2,484.88 1012,490.7 1012.8,487.8 1013.6,497.85 1014.4,496.14 1015.2,495.96 1016,496.1 1016.8,496.68 1017.6,495.41 1018.4,497.73 1019.2,494.52 1020,487.03 1020.8,483.07 1021.6,492.94 1022.4,500.17 1023.2,499.02 1024,499.45 1024.8,496.17 1025.6,495.6 1026.4,496.03 1027.2,494.64 1028,498.83 1028.8,496.36 1029.6,485.91 1030.4,498.55 1031.2,499.66 1032,495.97 1032.8,496.74 1033.6,497.41 1034.4,499.85 1035.2,480 1036,455.11 1036.8,444.44 1037.6,448 1038.4,465.78 1039.2,497.13 1040,501.32 1040.8,497.51 1041.6,497.37 1042.4,499.57 1043.2,499.23 1044,496 1044.8,498.69 1045.6,496.95 1046.4,497.24 1047.2,495.97 1048,498.43 1048.8,490.48 1049.6,489.09 1050.4,485.16 1051.2,487.41 1052,497.15 1052.8,494.92 1053.6,486.6 1054.4,499.15 1055.2,496.39 1056,499.35 1056.8,488.53 1057.6,500.34 1058.4,499.88 1059.2,498.6 1060,483.1 1060.8,496.44 1061.6,495.35 1062.4,496.08 1063.2,497.99 1064,497.26 1064.8,493.4 1065.6,484.09 1066.4,491.59 1067.2,496.64 1068,493.19 1068.8,495.47 1069.6,494.79 1070.4,489.67 1071.2,489.64 1072,494.1 1072.8,490.72 1073.6,478.58 1074.4,484.89 1075.2,488.58 1076,490.33 1076.8,480.72 1077.6,473.71 1078.4,483.62 1079.2,486.32 1080,486.32 1080.8,484.4 1081.6,481.35 1082.4,482.07 1083.2,483.22 1084,481.28 1084.8,482.6 1085.6,473.92 1086.4,473.75 1087.2,476.26 1088,465.2 1088.8,467.91 1089.6,476.49 1090.4,477.26 1091.2,475.96 1092,476.27 1092.8,471.25 1093.6,470.04 1094.4,468.77 1095.2,472.99 1096,472.61 1096.8,462.29 1097.6,466.99 1098.4,460.7 1099.2,457.28 1100,451.97 1100.8,450.32 1101.6,463.78 1102.4,461.37 1103.2,462.33 1104,453.3 1104.8,461.28 1105.6,454.84 1106.4,445 1107.2,451.98 1108,460.36 1108.8,458.34 1109.6,452.7 1110.4,456.37 1111.2,455.85 1112,460.62 1112.8,457.79 1113.6,456.83 1114.4,458.34 1115.2,430.11 1116,396.34 1116.8,366.38 1117.6,340.22 1118.4,317.86 1119.2,299.31 1120,284.57 1120.8,273.63 1121.6,266.5 1122.4,263.17 1123.2,263.64 1124,267.92 1124.8,276.01 1125.6,287.9 1126.4,303.6 1127.2,323.1 1128,346.4 1128.8,373.51 1129.6,404.43 1130.4,439.15 1131.2,468.21 1132,467.43 1132.8,469.65 1133.6,468.76 1134.4,470.77 1135.2,471.4 1136,460.37 1136.8,465.61 1137.6,465.79 1138.4,464.11 1139.2,475.28 1140,472.47 1140.8,478.17 1141.6,478.36 1142.4,480.26 1143.2,477.14 1144,480.99 1144.8,480.05 1145.6,483.25 1146.4,468.31 1147.2,478.97 1148,482.42 1148.8,480 1149.6,470.16 1150.4,469.69 1151.2,474.9 1152,484.28 1152.8,488.37 1153.6,488.04 1154.4,485.39 1155.2,485.77 1156,490.24 1156.8,486.78 1157.6,489.04 1158.4,487.55 1159.2,492.57 1160,483.53 1160.8,491.6 1161.6,484.52 1162.4,488.76 1163.2,494.52 1164,480.82 1164.8,488.48 1165.6,494.63 1166.4,494.97 1167.2,487.48 1168,479.97 1168.8,482.73 1169.6,483.63 1170.4,486.29 1171.2,492 1172,495.02 1172.8,495.37 1173.6,493.25 1174.4,494.3 1175.2,496.86 1176,493.17 1176.8,491.57 1177.6,493.56 1178.4,491.83 1179.2,493 1180,495.1 1180.8,492.19 1181.6,496.44 1182.4,494.71 1183.2,486.95 1184,496.04 1184.8,493.16 1185.6,494.83 1186.4,494.39 1187.2,493.63 1188,489.71 1188.8,480.21 1189.6,489.39 1190.4,489.68 1191.2,485.04 1192,486.23 1192.8,484.25 1193.6,485.07 1194.4,495.07 1195.2,496.83 1196,496.42 1196.8,494.62 1197.6,484.13 1198.4,485.19 1199.2,495.13 1200,493.17 1200.8,493.74 1201.6,494.97 1202.4,496.99 1203.2,497.78 1204,496.81 1204.8,495.19 1205.6,497.01 1206.4,498.49 1207.2,494.37 1208,495.86 1208.8,494.85 1209.6,492.83 1210.4,489.59 1211.2,485.53 1212,481.07 1212.8,476.61 1213.6,472.54 1214.4,469.2 1215.2,465.48 1216,461.75 1216.8,459.17 1217.6,458.9 1218.4,462.08 1219.2,468.73 1220,477.53 1220.8,487.05 1221.6,495.88 1222.4,502.61 1223.2,505.82 1224,505.64 1224.8,504.05 1225.6,501.23 1226.4,497.36 1227.2,492.61 1228,487.14 1228.8,481.12 1229.6,474.72 1230.4,468.1 1231.2,461.11 1232,452.75 1232.8,443.22 1233.6,432.86 1234.4,421.98 1235.2,410.92 1236,400 1236.8,387.97 1237.6,374.15 1238.4,359.71 1239.2,345.83 1240,333.68 1240.8,324.44 1241.6,319.3 1242.4,317.47 1243.2,317.3 1244,318.7 1244.8,321.56 1245.6,325.75 1246.4,331.18 1247.2,337.73 1248,345.29 1248.8,353.76 1249.6,364.35 1250.4,379.43 1251.2,397.43 1252,416.64 1252.8,435.35 1253.6,451.84 1254.4,464.39 1255.2,472.69 1256,478.48 1256.8,482.17 1257.6,484.16 1258.4,484.83 1259.2,484.58 1260,483.8 1260.8,481.99 1261.6,478.7 1262.4,474.36 1263.2,469.41 1264,464.3 1264.8,459.45 1265.6,455.32 1266.4,452.34 1267.2,450.94 1268,451.3 1268.8,453.01 1269.6,455.78 1270.4,459.35 1271.2,463.43 1272,467.76 1272.8,472.06 1273.6,476.06 1274.4,479.47 1275.2,482.36 1276,485.34 1276.8,488.36 1277.6,491.33 1278.4,494.13 1279.2,496.69 1280,498.9 1280.8,500.66 1281.6,501.9 1282.4,502.38 1283.2,501.73 1284,500.22 1284.8,498.14 1285.6,495.81 1286.4,493.52 1287.2,491.59 1288,490.12 1288.8,488.86" fill="none" stroke="#a3262c" stroke-width="1.45" stroke-linejoin="round"/>
<polyline points="788,427.73 788.8,414.1 789.6,427.76 790.4,394.61 791.2,394.31 792,407.36 792.8,410.39 793.6,410.03 794.4,413.03 795.2,396.53 796,401.03 796.8,390.36 797.6,352.6 798.4,328.6 799.2,336.6 800,376.6 800.8,425.37 801.6,422.32 802.4,422.8 803.2,398.96 804,399.57 804.8,404.92 805.6,407.18 806.4,395.63 807.2,419.75 808,408.28 808.8,427.1 809.6,419.35 810.4,421.84 811.2,416.78 812,422.85 812.8,436.2 813.6,407.03 814.4,423.31 815.2,426.2 816,417.67 816.8,429.47 817.6,424.77 818.4,402.65 819.2,395.43 820,409.37 820.8,407.87 821.6,425.72 822.4,414.04 823.2,402.14 824,410.09 824.8,399.14 825.6,410.05 826.4,405.19 827.2,393.65 828,388.96 828.8,402.66 829.6,392.63 830.4,403.99 831.2,385.74 832,391.93 832.8,394.37 833.6,398.34 834.4,434.97 835.2,430.77 836,413.86 836.8,424.59 837.6,404.24 838.4,427.23 839.2,425.06 840,413.9 840.8,415.9 841.6,423.54 842.4,426.1 843.2,415.36 844,402.78 844.8,399.77 845.6,397.44 846.4,411.91 847.2,413.23 848,418.18 848.8,404.11 849.6,413.44 850.4,413.11 851.2,413.77 852,418.99 852.8,417.24 853.6,401.98 854.4,410.59 855.2,400.74 856,385.83 856.8,396.61 857.6,387.4 858.4,383.21 859.2,382.74 860,386.07 860.8,368.16 861.6,361.99 862.4,385.54 863.2,386.17 864,382.12 864.8,380.59 865.6,355.1 866.4,351.96 867.2,356.36 868,380.69 868.8,380.23 869.6,388.47 870.4,345.01 871.2,297.67 872,269.27 872.8,259.8 873.6,269.27 874.4,297.67 875.2,345.01 876,398.91 876.8,410.49 877.6,407.31 878.4,407.28 879.2,401.68 880,392.01 880.8,392.06 881.6,395.41 882.4,390.79 883.2,402.46 884,400.4 884.8,419.88 885.6,423.94 886.4,407.04 887.2,423.34 888,423.26 888.8,427.09 889.6,425.31 890.4,425.22 891.2,424.65 892,402.72 892.8,417.4 893.6,406.35 894.4,399.13 895.2,406.41 896,411.53 896.8,405.68 897.6,407.04 898.4,399.12 899.2,394.82 900,406.29 900.8,395.49 901.6,415.25 902.4,412.84 903.2,405.12 904,399.85 904.8,396.51 905.6,403.95 906.4,415.92 907.2,424.65 908,408.84 908.8,393.11 909.6,395.14 910.4,379.85 911.2,382.45 912,391.78 912.8,389.77 913.6,412.1 914.4,402.1 915.2,400.83 916,390.23 916.8,396.63 917.6,381.94 918.4,375.33 919.2,395.16 920,433.04 920.8,435.6 921.6,437.43 922.4,396.08 923.2,384.51 924,388.11 924.8,406.59 925.6,419.11 926.4,409.74 927.2,409.73 928,399.43 928.8,421.36 929.6,429.21 930.4,430.03 931.2,450.95 932,426.49 932.8,396.77 933.6,389.43 934.4,396.72 935.2,420.67 936,436.02 936.8,429.5 937.6,426.43 938.4,393.02 939.2,406.18 940,416.07 940.8,422.27 941.6,422.21 942.4,405.45 943.2,396.55 944,405.04 944.8,428.9 945.6,421.55 946.4,418.42 947.2,407.06 948,409.38 948.8,394.69 949.6,398.81 950.4,400.22 951.2,387.34 952,407.2 952.8,414.69 953.6,404.96 954.4,402.6 955.2,410.4 956,418.94 956.8,448.17 957.6,430.38 958.4,390.45 959.2,383.58 960,364.63 960.8,386.95 961.6,408.39 962.4,424.55 963.2,431 964,436 964.8,420.82 965.6,408.05 966.4,381.49 967.2,335.23 968,296.22 968.8,264.48 969.6,239.99 970.4,222.76 971.2,212.78 972,210.06 972.8,214.59 973.6,226.38 974.4,245.43 975.2,271.73 976,305.29 976.8,346.11 977.6,394.18 978.4,416.95 979.2,402.64 980,392.31 980.8,396.04 981.6,400.02 982.4,400.48 983.2,395.62 984,400.98 984.8,419.49 985.6,405.3 986.4,400.8 987.2,397.23 988,388.05 988.8,399.78 989.6,390.71 990.4,391.04 991.2,393.82 992,420.66 992.8,439.63 993.6,430.35 994.4,411.59 995.2,402.46 996,392.83 996.8,374.47 997.6,366.5 998.4,351.07 999.2,366.37 1000,393.93 1000.8,411.75 1001.6,418.48 1002.4,423.91 1003.2,424.56 1004,420.05 1004.8,417.78 1005.6,416.22 1006.4,427.77 1007.2,423.07 1008,418.77 1008.8,422.33 1009.6,407.91 1010.4,407.15 1011.2,409.68 1012,397.57 1012.8,387.61 1013.6,394.49 1014.4,399.84 1015.2,390.6 1016,391.4 1016.8,379.19 1017.6,389.25 1018.4,363.9 1019.2,362.49 1020,360.76 1020.8,369.67 1021.6,358.53 1022.4,356.36 1023.2,359.46 1024,373.53 1024.8,370.26 1025.6,368.82 1026.4,364.55 1027.2,363.4 1028,342.3 1028.8,347.63 1029.6,325.09 1030.4,352.28 1031.2,351.46 1032,365.67 1032.8,368.39 1033.6,367.67 1034.4,358.69 1035.2,343.64 1036,321.77 1036.8,312.39 1037.6,315.52 1038.4,331.14 1039.2,337 1040,334.01 1040.8,347.28 1041.6,358.5 1042.4,357.91 1043.2,371.99 1044,364.35 1044.8,361.89 1045.6,350.46 1046.4,364.04 1047.2,368.89 1048,373.68 1048.8,359.58 1049.6,362.48 1050.4,367.52 1051.2,368.43 1052,365.11 1052.8,373.08 1053.6,383.5 1054.4,389.01 1055.2,392.77 1056,401.67 1056.8,384.75 1057.6,390.08 1058.4,379.71 1059.2,378.35 1060,382.93 1060.8,389.64 1061.6,390.14 1062.4,401.17 1063.2,421.88 1064,423.3 1064.8,407.66 1065.6,415.39 1066.4,415.75 1067.2,419.17 1068,419.19 1068.8,434.86 1069.6,435.44 1070.4,446.81 1071.2,436.78 1072,436.92 1072.8,427.28 1073.6,432.16 1074.4,431.45 1075.2,433.83 1076,431.15 1076.8,422.93 1077.6,433.4 1078.4,422.28 1079.2,422.83 1080,420.84 1080.8,427.18 1081.6,407.88 1082.4,407.24 1083.2,418.51 1084,428.27 1084.8,426.58 1085.6,426.75 1086.4,417.93 1087.2,416.81 1088,419.06 1088.8,404.69 1089.6,393.9 1090.4,391.05 1091.2,397.01 1092,396.95 1092.8,389.23 1093.6,383.48 1094.4,398.14 1095.2,386.57 1096,390.56 1096.8,392.1 1097.6,390.16 1098.4,389.85 1099.2,399.75 1100,393.14 1100.8,384.8 1101.6,390.59 1102.4,401.23 1103.2,391.95 1104,384.66 1104.8,392.28 1105.6,389.1 1106.4,387.86 1107.2,391.68 1108,385.44 1108.8,383.21 1109.6,379.44 1110.4,371.12 1111.2,363.97 1112,334.78 1112.8,307.69 1113.6,282.71 1114.4,259.83 1115.2,239.06 1116,220.38 1116.8,203.82 1117.6,189.35 1118.4,176.99 1119.2,166.73 1120,158.58 1120.8,152.53 1121.6,148.59 1122.4,146.75 1123.2,147.01 1124,149.38 1124.8,153.85 1125.6,160.42 1126.4,169.1 1127.2,179.88 1128,192.77 1128.8,207.76 1129.6,224.85 1130.4,244.05 1131.2,265.35 1132,288.76 1132.8,314.27 1133.6,341.88 1134.4,371.6 1135.2,401.16 1136,413.28 1136.8,399.44 1137.6,404.76 1138.4,391.59 1139.2,392.67 1140,395.26 1140.8,410.51 1141.6,413.58 1142.4,406.55 1143.2,403.26 1144,401.22 1144.8,399.59 1145.6,418.31 1146.4,413.65 1147.2,409.67 1148,414.16 1148.8,406.63 1149.6,400.33 1150.4,400.74 1151.2,394.27 1152,405.02 1152.8,405.17 1153.6,392.24 1154.4,385.27 1155.2,380.98 1156,386.59 1156.8,396.32 1157.6,395.34 1158.4,399.05 1159.2,396.88 1160,402.31 1160.8,405.37 1161.6,411.02 1162.4,412.75 1163.2,413.27 1164,406.91 1164.8,407.62 1165.6,400.29 1166.4,400.07 1167.2,399.62 1168,402.38 1168.8,397.13 1169.6,403.7 1170.4,409.28 1171.2,408.82 1172,415.66 1172.8,416.68 1173.6,411.89 1174.4,419.55 1175.2,405.96 1176,407.82 1176.8,397.38 1177.6,410.29 1178.4,407.79 1179.2,407.14 1180,396.04 1180.8,408.66 1181.6,409.84 1182.4,414.14 1183.2,412.47 1184,407.43 1184.8,401.87 1185.6,398.75 1186.4,396.16 1187.2,393.46 1188,390.71 1188.8,387.96 1189.6,385.26 1190.4,382.65 1191.2,380.18 1192,377.9 1192.8,375.86 1193.6,374.11 1194.4,372.7 1195.2,371.67 1196,371.07 1196.8,371 1197.6,371.53 1198.4,372.56 1199.2,374.03 1200,375.83 1200.8,377.88 1201.6,380.1 1202.4,382.39 1203.2,384.67 1204,386.85 1204.8,388.84 1205.6,390.56 1206.4,391.91 1207.2,392.82 1208,393.19 1208.8,392.93 1209.6,392.14 1210.4,390.92 1211.2,389.31 1212,387.33 1212.8,385.02 1213.6,382.41 1214.4,379.54 1215.2,376.42 1216,373.1 1216.8,369.61 1217.6,365.98 1218.4,362.24 1219.2,358.41 1220,354.5 1220.8,350.03 1221.6,344.99 1222.4,339.51 1223.2,333.7 1224,327.7 1224.8,321.62 1225.6,315.59 1226.4,309.74 1227.2,304.19 1228,299.06 1228.8,294.47 1229.6,290.56 1230.4,287.44 1231.2,285.87 1232,287.73 1232.8,292.02 1233.6,297.48 1234.4,302.84 1235.2,306.84 1236,308.21 1236.8,306.34 1237.6,302.41 1238.4,297.04 1239.2,290.77 1240,284.14 1240.8,277.7 1241.6,272 1242.4,267.58 1243.2,264.99 1244,264.32 1244.8,264.16 1245.6,264.34 1246.4,264.86 1247.2,265.69 1248,266.84 1248.8,268.28 1249.6,270 1250.4,271.99 1251.2,274.24 1252,276.74 1252.8,279.46 1253.6,282.41 1254.4,285.56 1255.2,288.91 1256,292.43 1256.8,296.76 1257.6,303.79 1258.4,312.75 1259.2,322.62 1260,332.39 1260.8,341.03 1261.6,347.53 1262.4,351.31 1263.2,353.21 1264,353.77 1264.8,353.46 1265.6,352.79 1266.4,352.25 1267.2,352.32 1268,353.03 1268.8,353.8 1269.6,354.62 1270.4,355.46 1271.2,356.32 1272,357.17 1272.8,358 1273.6,358.79 1274.4,359.53 1275.2,360.03 1276,360.06 1276.8,359.89 1277.6,359.82 1278.4,360.17 1279.2,361.22 1280,363.3 1280.8,366.78 1281.6,371.53 1282.4,377.03 1283.2,382.8 1284,388.32 1284.8,393.11 1285.6,396.66 1286.4,398.62 1287.2,399.34 1288,399.31 1288.8,399.03" fill="none" stroke="#4f83c4" stroke-width="1.6" stroke-linejoin="round"/>
<rect x="787.3" y="119.9" width="502.70000000000005" height="393.1" fill="none" stroke="#3a3a3a" stroke-width="1.8"/>
<line x1="787.6" y1="119.9" x2="787.6" y2="105.9" stroke="#222" stroke-width="1.6"/>
<line x1="787.6" y1="513" x2="787.6" y2="527" stroke="#222" stroke-width="1.6"/>
<line x1="906.99" y1="119.9" x2="906.99" y2="105.9" stroke="#222" stroke-width="1.6"/>
<line x1="906.99" y1="513" x2="906.99" y2="527" stroke="#222" stroke-width="1.6"/>
<line x1="991.7" y1="119.9" x2="991.7" y2="105.9" stroke="#222" stroke-width="1.6"/>
<line x1="991.7" y1="513" x2="991.7" y2="527" stroke="#222" stroke-width="1.6"/>
<line x1="1057.4" y1="119.9" x2="1057.4" y2="105.9" stroke="#222" stroke-width="1.6"/>
<line x1="1057.4" y1="513" x2="1057.4" y2="527" stroke="#222" stroke-width="1.6"/>
<line x1="1156.48" y1="119.9" x2="1156.48" y2="105.9" stroke="#222" stroke-width="1.6"/>
<line x1="1156.48" y1="513" x2="1156.48" y2="527" stroke="#222" stroke-width="1.6"/>
<line x1="1230.48" y1="119.9" x2="1230.48" y2="105.9" stroke="#222" stroke-width="1.6"/>
<line x1="1230.48" y1="513" x2="1230.48" y2="527" stroke="#222" stroke-width="1.6"/>
<line x1="1289.57" y1="119.9" x2="1289.57" y2="105.9" stroke="#222" stroke-width="1.6"/>
<line x1="1289.57" y1="513" x2="1289.57" y2="527" stroke="#222" stroke-width="1.6"/>
<line x1="822.28" y1="119.9" x2="822.28" y2="112.9" stroke="#222" stroke-width="1.5"/>
<line x1="822.28" y1="513" x2="822.28" y2="520" stroke="#222" stroke-width="1.5"/>
<line x1="853.3" y1="119.9" x2="853.3" y2="112.9" stroke="#222" stroke-width="1.5"/>
<line x1="853.3" y1="513" x2="853.3" y2="520" stroke="#222" stroke-width="1.5"/>
<line x1="881.37" y1="119.9" x2="881.37" y2="112.9" stroke="#222" stroke-width="1.5"/>
<line x1="881.37" y1="513" x2="881.37" y2="520" stroke="#222" stroke-width="1.5"/>
<line x1="930.56" y1="119.9" x2="930.56" y2="112.9" stroke="#222" stroke-width="1.5"/>
<line x1="930.56" y1="513" x2="930.56" y2="520" stroke="#222" stroke-width="1.5"/>
<line x1="952.38" y1="119.9" x2="952.38" y2="112.9" stroke="#222" stroke-width="1.5"/>
<line x1="952.38" y1="513" x2="952.38" y2="520" stroke="#222" stroke-width="1.5"/>
<line x1="972.69" y1="119.9" x2="972.69" y2="112.9" stroke="#222" stroke-width="1.5"/>
<line x1="972.69" y1="513" x2="972.69" y2="520" stroke="#222" stroke-width="1.5"/>
<line x1="1009.55" y1="119.9" x2="1009.55" y2="112.9" stroke="#222" stroke-width="1.5"/>
<line x1="1009.55" y1="513" x2="1009.55" y2="520" stroke="#222" stroke-width="1.5"/>
<line x1="1026.38" y1="119.9" x2="1026.38" y2="112.9" stroke="#222" stroke-width="1.5"/>
<line x1="1026.38" y1="513" x2="1026.38" y2="520" stroke="#222" stroke-width="1.5"/>
<line x1="1042.3" y1="119.9" x2="1042.3" y2="112.9" stroke="#222" stroke-width="1.5"/>
<line x1="1042.3" y1="513" x2="1042.3" y2="520" stroke="#222" stroke-width="1.5"/>
<line x1="1085.47" y1="119.9" x2="1085.47" y2="112.9" stroke="#222" stroke-width="1.5"/>
<line x1="1085.47" y1="513" x2="1085.47" y2="520" stroke="#222" stroke-width="1.5"/>
<line x1="1111.09" y1="119.9" x2="1111.09" y2="112.9" stroke="#222" stroke-width="1.5"/>
<line x1="1111.09" y1="513" x2="1111.09" y2="520" stroke="#222" stroke-width="1.5"/>
<line x1="1134.66" y1="119.9" x2="1134.66" y2="112.9" stroke="#222" stroke-width="1.5"/>
<line x1="1134.66" y1="513" x2="1134.66" y2="520" stroke="#222" stroke-width="1.5"/>
<line x1="1176.79" y1="119.9" x2="1176.79" y2="112.9" stroke="#222" stroke-width="1.5"/>
<line x1="1176.79" y1="513" x2="1176.79" y2="520" stroke="#222" stroke-width="1.5"/>
<line x1="1195.8" y1="119.9" x2="1195.8" y2="112.9" stroke="#222" stroke-width="1.5"/>
<line x1="1195.8" y1="513" x2="1195.8" y2="520" stroke="#222" stroke-width="1.5"/>
<line x1="1213.65" y1="119.9" x2="1213.65" y2="112.9" stroke="#222" stroke-width="1.5"/>
<line x1="1213.65" y1="513" x2="1213.65" y2="520" stroke="#222" stroke-width="1.5"/>
<line x1="1246.4" y1="119.9" x2="1246.4" y2="112.9" stroke="#222" stroke-width="1.5"/>
<line x1="1246.4" y1="513" x2="1246.4" y2="520" stroke="#222" stroke-width="1.5"/>
<line x1="1261.5" y1="119.9" x2="1261.5" y2="112.9" stroke="#222" stroke-width="1.5"/>
<line x1="1261.5" y1="513" x2="1261.5" y2="520" stroke="#222" stroke-width="1.5"/>
<line x1="1275.87" y1="119.9" x2="1275.87" y2="112.9" stroke="#222" stroke-width="1.5"/>
<line x1="1275.87" y1="513" x2="1275.87" y2="520" stroke="#222" stroke-width="1.5"/>
<line x1="787.3" y1="119.9" x2="773.3" y2="119.9" stroke="#111" stroke-width="1.6"/>
<line x1="1290" y1="119.9" x2="1304" y2="119.9" stroke="#111" stroke-width="1.6"/>
<line x1="787.3" y1="138.22" x2="780.3" y2="138.22" stroke="#111" stroke-width="1.3"/>
<line x1="1290" y1="138.22" x2="1297" y2="138.22" stroke="#111" stroke-width="1.3"/>
<line x1="787.3" y1="133.6" x2="780.3" y2="133.6" stroke="#111" stroke-width="1.3"/>
<line x1="1290" y1="133.6" x2="1297" y2="133.6" stroke="#111" stroke-width="1.3"/>
<line x1="787.3" y1="130.33" x2="780.3" y2="130.33" stroke="#111" stroke-width="1.3"/>
<line x1="1290" y1="130.33" x2="1297" y2="130.33" stroke="#111" stroke-width="1.3"/>
<line x1="787.3" y1="127.79" x2="780.3" y2="127.79" stroke="#111" stroke-width="1.3"/>
<line x1="1290" y1="127.79" x2="1297" y2="127.79" stroke="#111" stroke-width="1.3"/>
<line x1="787.3" y1="125.71" x2="780.3" y2="125.71" stroke="#111" stroke-width="1.3"/>
<line x1="1290" y1="125.71" x2="1297" y2="125.71" stroke="#111" stroke-width="1.3"/>
<line x1="787.3" y1="123.96" x2="780.3" y2="123.96" stroke="#111" stroke-width="1.3"/>
<line x1="1290" y1="123.96" x2="1297" y2="123.96" stroke="#111" stroke-width="1.3"/>
<line x1="787.3" y1="122.44" x2="780.3" y2="122.44" stroke="#111" stroke-width="1.3"/>
<line x1="1290" y1="122.44" x2="1297" y2="122.44" stroke="#111" stroke-width="1.3"/>
<line x1="787.3" y1="121.1" x2="780.3" y2="121.1" stroke="#111" stroke-width="1.3"/>
<line x1="1290" y1="121.1" x2="1297" y2="121.1" stroke="#111" stroke-width="1.3"/>
<line x1="787.3" y1="146.11" x2="773.3" y2="146.11" stroke="#111" stroke-width="1.6"/>
<line x1="1290" y1="146.11" x2="1304" y2="146.11" stroke="#111" stroke-width="1.6"/>
<line x1="787.3" y1="164.42" x2="780.3" y2="164.42" stroke="#111" stroke-width="1.3"/>
<line x1="1290" y1="164.42" x2="1297" y2="164.42" stroke="#111" stroke-width="1.3"/>
<line x1="787.3" y1="159.81" x2="780.3" y2="159.81" stroke="#111" stroke-width="1.3"/>
<line x1="1290" y1="159.81" x2="1297" y2="159.81" stroke="#111" stroke-width="1.3"/>
<line x1="787.3" y1="156.54" x2="780.3" y2="156.54" stroke="#111" stroke-width="1.3"/>
<line x1="1290" y1="156.54" x2="1297" y2="156.54" stroke="#111" stroke-width="1.3"/>
<line x1="787.3" y1="154" x2="780.3" y2="154" stroke="#111" stroke-width="1.3"/>
<line x1="1290" y1="154" x2="1297" y2="154" stroke="#111" stroke-width="1.3"/>
<line x1="787.3" y1="151.92" x2="780.3" y2="151.92" stroke="#111" stroke-width="1.3"/>
<line x1="1290" y1="151.92" x2="1297" y2="151.92" stroke="#111" stroke-width="1.3"/>
<line x1="787.3" y1="150.17" x2="780.3" y2="150.17" stroke="#111" stroke-width="1.3"/>
<line x1="1290" y1="150.17" x2="1297" y2="150.17" stroke="#111" stroke-width="1.3"/>
<line x1="787.3" y1="148.65" x2="780.3" y2="148.65" stroke="#111" stroke-width="1.3"/>
<line x1="1290" y1="148.65" x2="1297" y2="148.65" stroke="#111" stroke-width="1.3"/>
<line x1="787.3" y1="147.31" x2="780.3" y2="147.31" stroke="#111" stroke-width="1.3"/>
<line x1="1290" y1="147.31" x2="1297" y2="147.31" stroke="#111" stroke-width="1.3"/>
<line x1="787.3" y1="172.31" x2="773.3" y2="172.31" stroke="#111" stroke-width="1.6"/>
<line x1="1290" y1="172.31" x2="1304" y2="172.31" stroke="#111" stroke-width="1.6"/>
<line x1="787.3" y1="190.63" x2="780.3" y2="190.63" stroke="#111" stroke-width="1.3"/>
<line x1="1290" y1="190.63" x2="1297" y2="190.63" stroke="#111" stroke-width="1.3"/>
<line x1="787.3" y1="186.02" x2="780.3" y2="186.02" stroke="#111" stroke-width="1.3"/>
<line x1="1290" y1="186.02" x2="1297" y2="186.02" stroke="#111" stroke-width="1.3"/>
<line x1="787.3" y1="182.74" x2="780.3" y2="182.74" stroke="#111" stroke-width="1.3"/>
<line x1="1290" y1="182.74" x2="1297" y2="182.74" stroke="#111" stroke-width="1.3"/>
<line x1="787.3" y1="180.2" x2="780.3" y2="180.2" stroke="#111" stroke-width="1.3"/>
<line x1="1290" y1="180.2" x2="1297" y2="180.2" stroke="#111" stroke-width="1.3"/>
<line x1="787.3" y1="178.13" x2="780.3" y2="178.13" stroke="#111" stroke-width="1.3"/>
<line x1="1290" y1="178.13" x2="1297" y2="178.13" stroke="#111" stroke-width="1.3"/>
<line x1="787.3" y1="176.37" x2="780.3" y2="176.37" stroke="#111" stroke-width="1.3"/>
<line x1="1290" y1="176.37" x2="1297" y2="176.37" stroke="#111" stroke-width="1.3"/>
<line x1="787.3" y1="174.85" x2="780.3" y2="174.85" stroke="#111" stroke-width="1.3"/>
<line x1="1290" y1="174.85" x2="1297" y2="174.85" stroke="#111" stroke-width="1.3"/>
<line x1="787.3" y1="173.51" x2="780.3" y2="173.51" stroke="#111" stroke-width="1.3"/>
<line x1="1290" y1="173.51" x2="1297" y2="173.51" stroke="#111" stroke-width="1.3"/>
<line x1="787.3" y1="198.52" x2="773.3" y2="198.52" stroke="#111" stroke-width="1.6"/>
<line x1="1290" y1="198.52" x2="1304" y2="198.52" stroke="#111" stroke-width="1.6"/>
<line x1="787.3" y1="216.84" x2="780.3" y2="216.84" stroke="#111" stroke-width="1.3"/>
<line x1="1290" y1="216.84" x2="1297" y2="216.84" stroke="#111" stroke-width="1.3"/>
<line x1="787.3" y1="212.22" x2="780.3" y2="212.22" stroke="#111" stroke-width="1.3"/>
<line x1="1290" y1="212.22" x2="1297" y2="212.22" stroke="#111" stroke-width="1.3"/>
<line x1="787.3" y1="208.95" x2="780.3" y2="208.95" stroke="#111" stroke-width="1.3"/>
<line x1="1290" y1="208.95" x2="1297" y2="208.95" stroke="#111" stroke-width="1.3"/>
<line x1="787.3" y1="206.41" x2="780.3" y2="206.41" stroke="#111" stroke-width="1.3"/>
<line x1="1290" y1="206.41" x2="1297" y2="206.41" stroke="#111" stroke-width="1.3"/>
<line x1="787.3" y1="204.33" x2="780.3" y2="204.33" stroke="#111" stroke-width="1.3"/>
<line x1="1290" y1="204.33" x2="1297" y2="204.33" stroke="#111" stroke-width="1.3"/>
<line x1="787.3" y1="202.58" x2="780.3" y2="202.58" stroke="#111" stroke-width="1.3"/>
<line x1="1290" y1="202.58" x2="1297" y2="202.58" stroke="#111" stroke-width="1.3"/>
<line x1="787.3" y1="201.06" x2="780.3" y2="201.06" stroke="#111" stroke-width="1.3"/>
<line x1="1290" y1="201.06" x2="1297" y2="201.06" stroke="#111" stroke-width="1.3"/>
<line x1="787.3" y1="199.72" x2="780.3" y2="199.72" stroke="#111" stroke-width="1.3"/>
<line x1="1290" y1="199.72" x2="1297" y2="199.72" stroke="#111" stroke-width="1.3"/>
<line x1="787.3" y1="224.73" x2="773.3" y2="224.73" stroke="#111" stroke-width="1.6"/>
<line x1="1290" y1="224.73" x2="1304" y2="224.73" stroke="#111" stroke-width="1.6"/>
<line x1="787.3" y1="243.04" x2="780.3" y2="243.04" stroke="#111" stroke-width="1.3"/>
<line x1="1290" y1="243.04" x2="1297" y2="243.04" stroke="#111" stroke-width="1.3"/>
<line x1="787.3" y1="238.43" x2="780.3" y2="238.43" stroke="#111" stroke-width="1.3"/>
<line x1="1290" y1="238.43" x2="1297" y2="238.43" stroke="#111" stroke-width="1.3"/>
<line x1="787.3" y1="235.16" x2="780.3" y2="235.16" stroke="#111" stroke-width="1.3"/>
<line x1="1290" y1="235.16" x2="1297" y2="235.16" stroke="#111" stroke-width="1.3"/>
<line x1="787.3" y1="232.62" x2="780.3" y2="232.62" stroke="#111" stroke-width="1.3"/>
<line x1="1290" y1="232.62" x2="1297" y2="232.62" stroke="#111" stroke-width="1.3"/>
<line x1="787.3" y1="230.54" x2="780.3" y2="230.54" stroke="#111" stroke-width="1.3"/>
<line x1="1290" y1="230.54" x2="1297" y2="230.54" stroke="#111" stroke-width="1.3"/>
<line x1="787.3" y1="228.79" x2="780.3" y2="228.79" stroke="#111" stroke-width="1.3"/>
<line x1="1290" y1="228.79" x2="1297" y2="228.79" stroke="#111" stroke-width="1.3"/>
<line x1="787.3" y1="227.27" x2="780.3" y2="227.27" stroke="#111" stroke-width="1.3"/>
<line x1="1290" y1="227.27" x2="1297" y2="227.27" stroke="#111" stroke-width="1.3"/>
<line x1="787.3" y1="225.93" x2="780.3" y2="225.93" stroke="#111" stroke-width="1.3"/>
<line x1="1290" y1="225.93" x2="1297" y2="225.93" stroke="#111" stroke-width="1.3"/>
<line x1="787.3" y1="250.93" x2="773.3" y2="250.93" stroke="#111" stroke-width="1.6"/>
<line x1="1290" y1="250.93" x2="1304" y2="250.93" stroke="#111" stroke-width="1.6"/>
<line x1="787.3" y1="269.25" x2="780.3" y2="269.25" stroke="#111" stroke-width="1.3"/>
<line x1="1290" y1="269.25" x2="1297" y2="269.25" stroke="#111" stroke-width="1.3"/>
<line x1="787.3" y1="264.64" x2="780.3" y2="264.64" stroke="#111" stroke-width="1.3"/>
<line x1="1290" y1="264.64" x2="1297" y2="264.64" stroke="#111" stroke-width="1.3"/>
<line x1="787.3" y1="261.36" x2="780.3" y2="261.36" stroke="#111" stroke-width="1.3"/>
<line x1="1290" y1="261.36" x2="1297" y2="261.36" stroke="#111" stroke-width="1.3"/>
<line x1="787.3" y1="258.82" x2="780.3" y2="258.82" stroke="#111" stroke-width="1.3"/>
<line x1="1290" y1="258.82" x2="1297" y2="258.82" stroke="#111" stroke-width="1.3"/>
<line x1="787.3" y1="256.75" x2="780.3" y2="256.75" stroke="#111" stroke-width="1.3"/>
<line x1="1290" y1="256.75" x2="1297" y2="256.75" stroke="#111" stroke-width="1.3"/>
<line x1="787.3" y1="254.99" x2="780.3" y2="254.99" stroke="#111" stroke-width="1.3"/>
<line x1="1290" y1="254.99" x2="1297" y2="254.99" stroke="#111" stroke-width="1.3"/>
<line x1="787.3" y1="253.47" x2="780.3" y2="253.47" stroke="#111" stroke-width="1.3"/>
<line x1="1290" y1="253.47" x2="1297" y2="253.47" stroke="#111" stroke-width="1.3"/>
<line x1="787.3" y1="252.13" x2="780.3" y2="252.13" stroke="#111" stroke-width="1.3"/>
<line x1="1290" y1="252.13" x2="1297" y2="252.13" stroke="#111" stroke-width="1.3"/>
<line x1="787.3" y1="277.14" x2="773.3" y2="277.14" stroke="#111" stroke-width="1.6"/>
<line x1="1290" y1="277.14" x2="1304" y2="277.14" stroke="#111" stroke-width="1.6"/>
<line x1="787.3" y1="295.46" x2="780.3" y2="295.46" stroke="#111" stroke-width="1.3"/>
<line x1="1290" y1="295.46" x2="1297" y2="295.46" stroke="#111" stroke-width="1.3"/>
<line x1="787.3" y1="290.84" x2="780.3" y2="290.84" stroke="#111" stroke-width="1.3"/>
<line x1="1290" y1="290.84" x2="1297" y2="290.84" stroke="#111" stroke-width="1.3"/>
<line x1="787.3" y1="287.57" x2="780.3" y2="287.57" stroke="#111" stroke-width="1.3"/>
<line x1="1290" y1="287.57" x2="1297" y2="287.57" stroke="#111" stroke-width="1.3"/>
<line x1="787.3" y1="285.03" x2="780.3" y2="285.03" stroke="#111" stroke-width="1.3"/>
<line x1="1290" y1="285.03" x2="1297" y2="285.03" stroke="#111" stroke-width="1.3"/>
<line x1="787.3" y1="282.95" x2="780.3" y2="282.95" stroke="#111" stroke-width="1.3"/>
<line x1="1290" y1="282.95" x2="1297" y2="282.95" stroke="#111" stroke-width="1.3"/>
<line x1="787.3" y1="281.2" x2="780.3" y2="281.2" stroke="#111" stroke-width="1.3"/>
<line x1="1290" y1="281.2" x2="1297" y2="281.2" stroke="#111" stroke-width="1.3"/>
<line x1="787.3" y1="279.68" x2="780.3" y2="279.68" stroke="#111" stroke-width="1.3"/>
<line x1="1290" y1="279.68" x2="1297" y2="279.68" stroke="#111" stroke-width="1.3"/>
<line x1="787.3" y1="278.34" x2="780.3" y2="278.34" stroke="#111" stroke-width="1.3"/>
<line x1="1290" y1="278.34" x2="1297" y2="278.34" stroke="#111" stroke-width="1.3"/>
<line x1="787.3" y1="303.35" x2="773.3" y2="303.35" stroke="#111" stroke-width="1.6"/>
<line x1="1290" y1="303.35" x2="1304" y2="303.35" stroke="#111" stroke-width="1.6"/>
<line x1="787.3" y1="321.66" x2="780.3" y2="321.66" stroke="#111" stroke-width="1.3"/>
<line x1="1290" y1="321.66" x2="1297" y2="321.66" stroke="#111" stroke-width="1.3"/>
<line x1="787.3" y1="317.05" x2="780.3" y2="317.05" stroke="#111" stroke-width="1.3"/>
<line x1="1290" y1="317.05" x2="1297" y2="317.05" stroke="#111" stroke-width="1.3"/>
<line x1="787.3" y1="313.78" x2="780.3" y2="313.78" stroke="#111" stroke-width="1.3"/>
<line x1="1290" y1="313.78" x2="1297" y2="313.78" stroke="#111" stroke-width="1.3"/>
<line x1="787.3" y1="311.24" x2="780.3" y2="311.24" stroke="#111" stroke-width="1.3"/>
<line x1="1290" y1="311.24" x2="1297" y2="311.24" stroke="#111" stroke-width="1.3"/>
<line x1="787.3" y1="309.16" x2="780.3" y2="309.16" stroke="#111" stroke-width="1.3"/>
<line x1="1290" y1="309.16" x2="1297" y2="309.16" stroke="#111" stroke-width="1.3"/>
<line x1="787.3" y1="307.41" x2="780.3" y2="307.41" stroke="#111" stroke-width="1.3"/>
<line x1="1290" y1="307.41" x2="1297" y2="307.41" stroke="#111" stroke-width="1.3"/>
<line x1="787.3" y1="305.89" x2="780.3" y2="305.89" stroke="#111" stroke-width="1.3"/>
<line x1="1290" y1="305.89" x2="1297" y2="305.89" stroke="#111" stroke-width="1.3"/>
<line x1="787.3" y1="304.55" x2="780.3" y2="304.55" stroke="#111" stroke-width="1.3"/>
<line x1="1290" y1="304.55" x2="1297" y2="304.55" stroke="#111" stroke-width="1.3"/>
<line x1="787.3" y1="329.55" x2="773.3" y2="329.55" stroke="#111" stroke-width="1.6"/>
<line x1="1290" y1="329.55" x2="1304" y2="329.55" stroke="#111" stroke-width="1.6"/>
<line x1="787.3" y1="347.87" x2="780.3" y2="347.87" stroke="#111" stroke-width="1.3"/>
<line x1="1290" y1="347.87" x2="1297" y2="347.87" stroke="#111" stroke-width="1.3"/>
<line x1="787.3" y1="343.26" x2="780.3" y2="343.26" stroke="#111" stroke-width="1.3"/>
<line x1="1290" y1="343.26" x2="1297" y2="343.26" stroke="#111" stroke-width="1.3"/>
<line x1="787.3" y1="339.98" x2="780.3" y2="339.98" stroke="#111" stroke-width="1.3"/>
<line x1="1290" y1="339.98" x2="1297" y2="339.98" stroke="#111" stroke-width="1.3"/>
<line x1="787.3" y1="337.44" x2="780.3" y2="337.44" stroke="#111" stroke-width="1.3"/>
<line x1="1290" y1="337.44" x2="1297" y2="337.44" stroke="#111" stroke-width="1.3"/>
<line x1="787.3" y1="335.37" x2="780.3" y2="335.37" stroke="#111" stroke-width="1.3"/>
<line x1="1290" y1="335.37" x2="1297" y2="335.37" stroke="#111" stroke-width="1.3"/>
<line x1="787.3" y1="333.61" x2="780.3" y2="333.61" stroke="#111" stroke-width="1.3"/>
<line x1="1290" y1="333.61" x2="1297" y2="333.61" stroke="#111" stroke-width="1.3"/>
<line x1="787.3" y1="332.09" x2="780.3" y2="332.09" stroke="#111" stroke-width="1.3"/>
<line x1="1290" y1="332.09" x2="1297" y2="332.09" stroke="#111" stroke-width="1.3"/>
<line x1="787.3" y1="330.75" x2="780.3" y2="330.75" stroke="#111" stroke-width="1.3"/>
<line x1="1290" y1="330.75" x2="1297" y2="330.75" stroke="#111" stroke-width="1.3"/>
<line x1="787.3" y1="355.76" x2="773.3" y2="355.76" stroke="#111" stroke-width="1.6"/>
<line x1="1290" y1="355.76" x2="1304" y2="355.76" stroke="#111" stroke-width="1.6"/>
<line x1="787.3" y1="374.08" x2="780.3" y2="374.08" stroke="#111" stroke-width="1.3"/>
<line x1="1290" y1="374.08" x2="1297" y2="374.08" stroke="#111" stroke-width="1.3"/>
<line x1="787.3" y1="369.46" x2="780.3" y2="369.46" stroke="#111" stroke-width="1.3"/>
<line x1="1290" y1="369.46" x2="1297" y2="369.46" stroke="#111" stroke-width="1.3"/>
<line x1="787.3" y1="366.19" x2="780.3" y2="366.19" stroke="#111" stroke-width="1.3"/>
<line x1="1290" y1="366.19" x2="1297" y2="366.19" stroke="#111" stroke-width="1.3"/>
<line x1="787.3" y1="363.65" x2="780.3" y2="363.65" stroke="#111" stroke-width="1.3"/>
<line x1="1290" y1="363.65" x2="1297" y2="363.65" stroke="#111" stroke-width="1.3"/>
<line x1="787.3" y1="361.57" x2="780.3" y2="361.57" stroke="#111" stroke-width="1.3"/>
<line x1="1290" y1="361.57" x2="1297" y2="361.57" stroke="#111" stroke-width="1.3"/>
<line x1="787.3" y1="359.82" x2="780.3" y2="359.82" stroke="#111" stroke-width="1.3"/>
<line x1="1290" y1="359.82" x2="1297" y2="359.82" stroke="#111" stroke-width="1.3"/>
<line x1="787.3" y1="358.3" x2="780.3" y2="358.3" stroke="#111" stroke-width="1.3"/>
<line x1="1290" y1="358.3" x2="1297" y2="358.3" stroke="#111" stroke-width="1.3"/>
<line x1="787.3" y1="356.96" x2="780.3" y2="356.96" stroke="#111" stroke-width="1.3"/>
<line x1="1290" y1="356.96" x2="1297" y2="356.96" stroke="#111" stroke-width="1.3"/>
<line x1="787.3" y1="381.97" x2="773.3" y2="381.97" stroke="#111" stroke-width="1.6"/>
<line x1="1290" y1="381.97" x2="1304" y2="381.97" stroke="#111" stroke-width="1.6"/>
<line x1="787.3" y1="400.28" x2="780.3" y2="400.28" stroke="#111" stroke-width="1.3"/>
<line x1="1290" y1="400.28" x2="1297" y2="400.28" stroke="#111" stroke-width="1.3"/>
<line x1="787.3" y1="395.67" x2="780.3" y2="395.67" stroke="#111" stroke-width="1.3"/>
<line x1="1290" y1="395.67" x2="1297" y2="395.67" stroke="#111" stroke-width="1.3"/>
<line x1="787.3" y1="392.4" x2="780.3" y2="392.4" stroke="#111" stroke-width="1.3"/>
<line x1="1290" y1="392.4" x2="1297" y2="392.4" stroke="#111" stroke-width="1.3"/>
<line x1="787.3" y1="389.86" x2="780.3" y2="389.86" stroke="#111" stroke-width="1.3"/>
<line x1="1290" y1="389.86" x2="1297" y2="389.86" stroke="#111" stroke-width="1.3"/>
<line x1="787.3" y1="387.78" x2="780.3" y2="387.78" stroke="#111" stroke-width="1.3"/>
<line x1="1290" y1="387.78" x2="1297" y2="387.78" stroke="#111" stroke-width="1.3"/>
<line x1="787.3" y1="386.03" x2="780.3" y2="386.03" stroke="#111" stroke-width="1.3"/>
<line x1="1290" y1="386.03" x2="1297" y2="386.03" stroke="#111" stroke-width="1.3"/>
<line x1="787.3" y1="384.51" x2="780.3" y2="384.51" stroke="#111" stroke-width="1.3"/>
<line x1="1290" y1="384.51" x2="1297" y2="384.51" stroke="#111" stroke-width="1.3"/>
<line x1="787.3" y1="383.17" x2="780.3" y2="383.17" stroke="#111" stroke-width="1.3"/>
<line x1="1290" y1="383.17" x2="1297" y2="383.17" stroke="#111" stroke-width="1.3"/>
<line x1="787.3" y1="408.17" x2="773.3" y2="408.17" stroke="#111" stroke-width="1.6"/>
<line x1="1290" y1="408.17" x2="1304" y2="408.17" stroke="#111" stroke-width="1.6"/>
<line x1="787.3" y1="426.49" x2="780.3" y2="426.49" stroke="#111" stroke-width="1.3"/>
<line x1="1290" y1="426.49" x2="1297" y2="426.49" stroke="#111" stroke-width="1.3"/>
<line x1="787.3" y1="421.88" x2="780.3" y2="421.88" stroke="#111" stroke-width="1.3"/>
<line x1="1290" y1="421.88" x2="1297" y2="421.88" stroke="#111" stroke-width="1.3"/>
<line x1="787.3" y1="418.6" x2="780.3" y2="418.6" stroke="#111" stroke-width="1.3"/>
<line x1="1290" y1="418.6" x2="1297" y2="418.6" stroke="#111" stroke-width="1.3"/>
<line x1="787.3" y1="416.06" x2="780.3" y2="416.06" stroke="#111" stroke-width="1.3"/>
<line x1="1290" y1="416.06" x2="1297" y2="416.06" stroke="#111" stroke-width="1.3"/>
<line x1="787.3" y1="413.99" x2="780.3" y2="413.99" stroke="#111" stroke-width="1.3"/>
<line x1="1290" y1="413.99" x2="1297" y2="413.99" stroke="#111" stroke-width="1.3"/>
<line x1="787.3" y1="412.23" x2="780.3" y2="412.23" stroke="#111" stroke-width="1.3"/>
<line x1="1290" y1="412.23" x2="1297" y2="412.23" stroke="#111" stroke-width="1.3"/>
<line x1="787.3" y1="410.71" x2="780.3" y2="410.71" stroke="#111" stroke-width="1.3"/>
<line x1="1290" y1="410.71" x2="1297" y2="410.71" stroke="#111" stroke-width="1.3"/>
<line x1="787.3" y1="409.37" x2="780.3" y2="409.37" stroke="#111" stroke-width="1.3"/>
<line x1="1290" y1="409.37" x2="1297" y2="409.37" stroke="#111" stroke-width="1.3"/>
<line x1="787.3" y1="434.38" x2="773.3" y2="434.38" stroke="#111" stroke-width="1.6"/>
<line x1="1290" y1="434.38" x2="1304" y2="434.38" stroke="#111" stroke-width="1.6"/>
<line x1="787.3" y1="452.7" x2="780.3" y2="452.7" stroke="#111" stroke-width="1.3"/>
<line x1="1290" y1="452.7" x2="1297" y2="452.7" stroke="#111" stroke-width="1.3"/>
<line x1="787.3" y1="448.08" x2="780.3" y2="448.08" stroke="#111" stroke-width="1.3"/>
<line x1="1290" y1="448.08" x2="1297" y2="448.08" stroke="#111" stroke-width="1.3"/>
<line x1="787.3" y1="444.81" x2="780.3" y2="444.81" stroke="#111" stroke-width="1.3"/>
<line x1="1290" y1="444.81" x2="1297" y2="444.81" stroke="#111" stroke-width="1.3"/>
<line x1="787.3" y1="442.27" x2="780.3" y2="442.27" stroke="#111" stroke-width="1.3"/>
<line x1="1290" y1="442.27" x2="1297" y2="442.27" stroke="#111" stroke-width="1.3"/>
<line x1="787.3" y1="440.19" x2="780.3" y2="440.19" stroke="#111" stroke-width="1.3"/>
<line x1="1290" y1="440.19" x2="1297" y2="440.19" stroke="#111" stroke-width="1.3"/>
<line x1="787.3" y1="438.44" x2="780.3" y2="438.44" stroke="#111" stroke-width="1.3"/>
<line x1="1290" y1="438.44" x2="1297" y2="438.44" stroke="#111" stroke-width="1.3"/>
<line x1="787.3" y1="436.92" x2="780.3" y2="436.92" stroke="#111" stroke-width="1.3"/>
<line x1="1290" y1="436.92" x2="1297" y2="436.92" stroke="#111" stroke-width="1.3"/>
<line x1="787.3" y1="435.58" x2="780.3" y2="435.58" stroke="#111" stroke-width="1.3"/>
<line x1="1290" y1="435.58" x2="1297" y2="435.58" stroke="#111" stroke-width="1.3"/>
<line x1="787.3" y1="460.59" x2="773.3" y2="460.59" stroke="#111" stroke-width="1.6"/>
<line x1="1290" y1="460.59" x2="1304" y2="460.59" stroke="#111" stroke-width="1.6"/>
<line x1="787.3" y1="478.9" x2="780.3" y2="478.9" stroke="#111" stroke-width="1.3"/>
<line x1="1290" y1="478.9" x2="1297" y2="478.9" stroke="#111" stroke-width="1.3"/>
<line x1="787.3" y1="474.29" x2="780.3" y2="474.29" stroke="#111" stroke-width="1.3"/>
<line x1="1290" y1="474.29" x2="1297" y2="474.29" stroke="#111" stroke-width="1.3"/>
<line x1="787.3" y1="471.02" x2="780.3" y2="471.02" stroke="#111" stroke-width="1.3"/>
<line x1="1290" y1="471.02" x2="1297" y2="471.02" stroke="#111" stroke-width="1.3"/>
<line x1="787.3" y1="468.48" x2="780.3" y2="468.48" stroke="#111" stroke-width="1.3"/>
<line x1="1290" y1="468.48" x2="1297" y2="468.48" stroke="#111" stroke-width="1.3"/>
<line x1="787.3" y1="466.4" x2="780.3" y2="466.4" stroke="#111" stroke-width="1.3"/>
<line x1="1290" y1="466.4" x2="1297" y2="466.4" stroke="#111" stroke-width="1.3"/>
<line x1="787.3" y1="464.65" x2="780.3" y2="464.65" stroke="#111" stroke-width="1.3"/>
<line x1="1290" y1="464.65" x2="1297" y2="464.65" stroke="#111" stroke-width="1.3"/>
<line x1="787.3" y1="463.13" x2="780.3" y2="463.13" stroke="#111" stroke-width="1.3"/>
<line x1="1290" y1="463.13" x2="1297" y2="463.13" stroke="#111" stroke-width="1.3"/>
<line x1="787.3" y1="461.79" x2="780.3" y2="461.79" stroke="#111" stroke-width="1.3"/>
<line x1="1290" y1="461.79" x2="1297" y2="461.79" stroke="#111" stroke-width="1.3"/>
<line x1="787.3" y1="486.79" x2="773.3" y2="486.79" stroke="#111" stroke-width="1.6"/>
<line x1="1290" y1="486.79" x2="1304" y2="486.79" stroke="#111" stroke-width="1.6"/>
<line x1="787.3" y1="505.11" x2="780.3" y2="505.11" stroke="#111" stroke-width="1.3"/>
<line x1="1290" y1="505.11" x2="1297" y2="505.11" stroke="#111" stroke-width="1.3"/>
<line x1="787.3" y1="500.5" x2="780.3" y2="500.5" stroke="#111" stroke-width="1.3"/>
<line x1="1290" y1="500.5" x2="1297" y2="500.5" stroke="#111" stroke-width="1.3"/>
<line x1="787.3" y1="497.22" x2="780.3" y2="497.22" stroke="#111" stroke-width="1.3"/>
<line x1="1290" y1="497.22" x2="1297" y2="497.22" stroke="#111" stroke-width="1.3"/>
<line x1="787.3" y1="494.68" x2="780.3" y2="494.68" stroke="#111" stroke-width="1.3"/>
<line x1="1290" y1="494.68" x2="1297" y2="494.68" stroke="#111" stroke-width="1.3"/>
<line x1="787.3" y1="492.61" x2="780.3" y2="492.61" stroke="#111" stroke-width="1.3"/>
<line x1="1290" y1="492.61" x2="1297" y2="492.61" stroke="#111" stroke-width="1.3"/>
<line x1="787.3" y1="490.85" x2="780.3" y2="490.85" stroke="#111" stroke-width="1.3"/>
<line x1="1290" y1="490.85" x2="1297" y2="490.85" stroke="#111" stroke-width="1.3"/>
<line x1="787.3" y1="489.33" x2="780.3" y2="489.33" stroke="#111" stroke-width="1.3"/>
<line x1="1290" y1="489.33" x2="1297" y2="489.33" stroke="#111" stroke-width="1.3"/>
<line x1="787.3" y1="487.99" x2="780.3" y2="487.99" stroke="#111" stroke-width="1.3"/>
<line x1="1290" y1="487.99" x2="1297" y2="487.99" stroke="#111" stroke-width="1.3"/>
<line x1="787.3" y1="513" x2="773.3" y2="513" stroke="#111" stroke-width="1.6"/>
<line x1="1290" y1="513" x2="1304" y2="513" stroke="#111" stroke-width="1.6"/>
<text x="747.9" y="127.1" font-size="31.5" text-anchor="end">10</text>
<text x="748.3" y="114.8" font-size="22.5">11</text>
<text x="747.9" y="183.41" font-size="31.5" text-anchor="end">10</text>
<text x="748.3" y="171.11" font-size="22.5">9</text>
<text x="747.9" y="239.72" font-size="31.5" text-anchor="end">10</text>
<text x="748.3" y="227.42" font-size="22.5">7</text>
<text x="747.9" y="296.03" font-size="31.5" text-anchor="end">10</text>
<text x="748.3" y="283.73" font-size="22.5">5</text>
<text x="747.9" y="352.34" font-size="31.5" text-anchor="end">10</text>
<text x="748.3" y="340.04" font-size="22.5">3</text>
<text x="747.9" y="408.65" font-size="31.5" text-anchor="end">10</text>
<text x="747.9" y="464.96" font-size="31.5" text-anchor="end">10</text>
<text x="748.3" y="452.66" font-size="22.5">-1</text>
<text x="747.9" y="521.27" font-size="31.5" text-anchor="end">10</text>
<text x="748.3" y="508.97" font-size="22.5">-3</text>
<text x="786.9" y="556" font-size="31.5" text-anchor="middle">400</text>
<text x="905.8" y="556" font-size="31.5" text-anchor="middle">600</text>
<text x="1058.3" y="556" font-size="31.5" text-anchor="middle">1000</text>
<text x="1157.1" y="556" font-size="31.5" text-anchor="middle">1400</text>
<text x="1289.8" y="556" font-size="31.5" text-anchor="middle">2000</text>
<text x="790" y="322.6" font-size="15" font-weight="bold" fill="#333">9<tspan font-weight="normal" font-size="16" dx="0.5">ω</tspan></text>
<text x="858.8" y="262.8" font-size="15" font-weight="bold" fill="#333">7<tspan font-weight="normal" font-size="16" dx="0.5">ω</tspan></text>
<text x="904.7" y="374.5" font-size="15" font-weight="bold" fill="#333">6<tspan font-weight="normal" font-size="16" dx="0.5">ω</tspan></text>
<text x="959.5" y="212.9" font-size="15" font-weight="bold" fill="#333">5<tspan font-weight="normal" font-size="16" dx="0.5">ω</tspan></text>
<text x="1020.4" y="306" font-size="15" font-weight="bold" fill="#333">4<tspan font-weight="normal" font-size="16" dx="0.5">ω</tspan></text>
<text x="1109.4" y="143.3" font-size="15" font-weight="bold" fill="#333">3<tspan font-weight="normal" font-size="16" dx="0.5">ω</tspan></text>
<text x="1229.8" y="263.8" font-size="15" font-weight="bold" fill="#333">2<tspan font-weight="normal" font-size="16" dx="0.5">ω</tspan></text>
<polygon points="1039,1092 1041,1040 1045,990 1050,930 1056,860 1061,800 1064.5,766 1068,800 1075,860 1084,930 1094,990 1104,1040 1114,1092" fill="#f4ddf0"/>
<rect x="793.3" y="706.5" width="509.5" height="395.79999999999995" fill="none" stroke="#555555" stroke-width="1.6"/>
<line x1="793.3" y1="706.5" x2="1302.8" y2="706.5" stroke="#8a8a8a" stroke-width="1.8"/>
<line x1="793.3" y1="1095.3" x2="802.8" y2="1095.3" stroke="#555555" stroke-width="1.4"/>
<line x1="1293.3" y1="1095.3" x2="1302.8" y2="1095.3" stroke="#555555" stroke-width="1.4"/>
<line x1="793.3" y1="1056.3" x2="797.8" y2="1056.3" stroke="#555555" stroke-width="1.4"/>
<line x1="1298.3" y1="1056.3" x2="1302.8" y2="1056.3" stroke="#555555" stroke-width="1.4"/>
<line x1="793.3" y1="1017.3" x2="802.8" y2="1017.3" stroke="#555555" stroke-width="1.4"/>
<line x1="1293.3" y1="1017.3" x2="1302.8" y2="1017.3" stroke="#555555" stroke-width="1.4"/>
<line x1="793.3" y1="978.3" x2="797.8" y2="978.3" stroke="#555555" stroke-width="1.4"/>
<line x1="1298.3" y1="978.3" x2="1302.8" y2="978.3" stroke="#555555" stroke-width="1.4"/>
<line x1="793.3" y1="939.3" x2="802.8" y2="939.3" stroke="#555555" stroke-width="1.4"/>
<line x1="1293.3" y1="939.3" x2="1302.8" y2="939.3" stroke="#555555" stroke-width="1.4"/>
<line x1="793.3" y1="900.3" x2="797.8" y2="900.3" stroke="#555555" stroke-width="1.4"/>
<line x1="1298.3" y1="900.3" x2="1302.8" y2="900.3" stroke="#555555" stroke-width="1.4"/>
<line x1="793.3" y1="861.3" x2="802.8" y2="861.3" stroke="#555555" stroke-width="1.4"/>
<line x1="1293.3" y1="861.3" x2="1302.8" y2="861.3" stroke="#555555" stroke-width="1.4"/>
<line x1="793.3" y1="822.3" x2="797.8" y2="822.3" stroke="#555555" stroke-width="1.4"/>
<line x1="1298.3" y1="822.3" x2="1302.8" y2="822.3" stroke="#555555" stroke-width="1.4"/>
<line x1="793.3" y1="783.3" x2="802.8" y2="783.3" stroke="#555555" stroke-width="1.4"/>
<line x1="1293.3" y1="783.3" x2="1302.8" y2="783.3" stroke="#555555" stroke-width="1.4"/>
<line x1="793.3" y1="744.3" x2="797.8" y2="744.3" stroke="#555555" stroke-width="1.4"/>
<line x1="1298.3" y1="744.3" x2="1302.8" y2="744.3" stroke="#555555" stroke-width="1.4"/>
<line x1="793.3" y1="705.3" x2="802.8" y2="705.3" stroke="#555555" stroke-width="1.4"/>
<line x1="1293.3" y1="705.3" x2="1302.8" y2="705.3" stroke="#555555" stroke-width="1.4"/>
<line x1="900.5" y1="1102.3" x2="900.5" y2="1094.3" stroke="#555555" stroke-width="1.4"/>
<line x1="1062.1" y1="1102.3" x2="1062.1" y2="1094.3" stroke="#555555" stroke-width="1.4"/>
<line x1="1223.7" y1="1102.3" x2="1223.7" y2="1094.3" stroke="#555555" stroke-width="1.4"/>
<rect x="1039" y="1091" width="72" height="10.5" fill="#6a6a6a"/>
<ellipse cx="805" cy="1096.25" rx="5.6" ry="4.6" fill="#9447b0"/>
<ellipse cx="809.2" cy="1096.48" rx="5.6" ry="4.6" fill="#9447b0"/>
<ellipse cx="813.4" cy="1096.59" rx="5.6" ry="4.6" fill="#9447b0"/>
<ellipse cx="817.6" cy="1096.88" rx="5.6" ry="4.6" fill="#9447b0"/>
<ellipse cx="821.8" cy="1096.48" rx="5.6" ry="4.6" fill="#9447b0"/>
<ellipse cx="826" cy="1096.84" rx="5.6" ry="4.6" fill="#9447b0"/>
<ellipse cx="830.2" cy="1095.06" rx="5.6" ry="4.6" fill="#9447b0"/>
<ellipse cx="834.4" cy="1095.93" rx="5.6" ry="4.6" fill="#9447b0"/>
<ellipse cx="838.6" cy="1096.89" rx="5.6" ry="4.6" fill="#9447b0"/>
<ellipse cx="842.8" cy="1096.3" rx="5.6" ry="4.6" fill="#9447b0"/>
<ellipse cx="847" cy="1096.8" rx="5.6" ry="4.6" fill="#9447b0"/>
<ellipse cx="851.2" cy="1095.23" rx="5.6" ry="4.6" fill="#9447b0"/>
<ellipse cx="855.4" cy="1095.94" rx="5.6" ry="4.6" fill="#9447b0"/>
<ellipse cx="859.6" cy="1095.49" rx="5.6" ry="4.6" fill="#9447b0"/>
<ellipse cx="863.8" cy="1096.09" rx="5.6" ry="4.6" fill="#9447b0"/>
<ellipse cx="868" cy="1096.15" rx="5.6" ry="4.6" fill="#9447b0"/>
<ellipse cx="872.2" cy="1095.03" rx="5.6" ry="4.6" fill="#9447b0"/>
<ellipse cx="876.4" cy="1095.43" rx="5.6" ry="4.6" fill="#9447b0"/>
<ellipse cx="880.6" cy="1095.56" rx="5.6" ry="4.6" fill="#9447b0"/>
<ellipse cx="884.8" cy="1096.83" rx="5.6" ry="4.6" fill="#9447b0"/>
<ellipse cx="889" cy="1096.53" rx="5.6" ry="4.6" fill="#9447b0"/>
<ellipse cx="893.2" cy="1095.32" rx="5.6" ry="4.6" fill="#9447b0"/>
<ellipse cx="897.4" cy="1096.59" rx="5.6" ry="4.6" fill="#9447b0"/>
<ellipse cx="901.6" cy="1095.28" rx="5.6" ry="4.6" fill="#9447b0"/>
<ellipse cx="905.8" cy="1096.23" rx="5.6" ry="4.6" fill="#9447b0"/>
<ellipse cx="910" cy="1095.25" rx="5.6" ry="4.6" fill="#9447b0"/>
<ellipse cx="914.2" cy="1095" rx="5.6" ry="4.6" fill="#9447b0"/>
<ellipse cx="918.4" cy="1096.74" rx="5.6" ry="4.6" fill="#9447b0"/>
<ellipse cx="922.6" cy="1095.42" rx="5.6" ry="4.6" fill="#9447b0"/>
<ellipse cx="926.8" cy="1095.43" rx="5.6" ry="4.6" fill="#9447b0"/>
<ellipse cx="931" cy="1096.96" rx="5.6" ry="4.6" fill="#9447b0"/>
<ellipse cx="935.2" cy="1096.74" rx="5.6" ry="4.6" fill="#9447b0"/>
<ellipse cx="939.4" cy="1095.58" rx="5.6" ry="4.6" fill="#9447b0"/>
<ellipse cx="943.6" cy="1096.92" rx="5.6" ry="4.6" fill="#9447b0"/>
<ellipse cx="947.8" cy="1096.08" rx="5.6" ry="4.6" fill="#9447b0"/>
<ellipse cx="952" cy="1096.36" rx="5.6" ry="4.6" fill="#9447b0"/>
<ellipse cx="956.2" cy="1095.41" rx="5.6" ry="4.6" fill="#9447b0"/>
<ellipse cx="960.4" cy="1096.88" rx="5.6" ry="4.6" fill="#9447b0"/>
<ellipse cx="964.6" cy="1096.38" rx="5.6" ry="4.6" fill="#9447b0"/>
<ellipse cx="968.8" cy="1096.93" rx="5.6" ry="4.6" fill="#9447b0"/>
<ellipse cx="973" cy="1096.79" rx="5.6" ry="4.6" fill="#9447b0"/>
<ellipse cx="977.2" cy="1095.6" rx="5.6" ry="4.6" fill="#9447b0"/>
<ellipse cx="981.4" cy="1095.72" rx="5.6" ry="4.6" fill="#9447b0"/>
<ellipse cx="985.6" cy="1095.33" rx="5.6" ry="4.6" fill="#9447b0"/>
<ellipse cx="989.8" cy="1095.29" rx="5.6" ry="4.6" fill="#9447b0"/>
<ellipse cx="994" cy="1095.13" rx="5.6" ry="4.6" fill="#9447b0"/>
<ellipse cx="998.2" cy="1095.6" rx="5.6" ry="4.6" fill="#9447b0"/>
<ellipse cx="1002.4" cy="1096.21" rx="5.6" ry="4.6" fill="#9447b0"/>
<ellipse cx="1006.6" cy="1095.01" rx="5.6" ry="4.6" fill="#9447b0"/>
<ellipse cx="1010.8" cy="1096.36" rx="5.6" ry="4.6" fill="#9447b0"/>
<ellipse cx="1015" cy="1095.68" rx="5.6" ry="4.6" fill="#9447b0"/>
<ellipse cx="1019.2" cy="1095.62" rx="5.6" ry="4.6" fill="#9447b0"/>
<ellipse cx="1023.4" cy="1096.64" rx="5.6" ry="4.6" fill="#9447b0"/>
<ellipse cx="1027.6" cy="1095.96" rx="5.6" ry="4.6" fill="#9447b0"/>
<ellipse cx="1031.8" cy="1095.63" rx="5.6" ry="4.6" fill="#9447b0"/>
<ellipse cx="1036" cy="1095.96" rx="5.6" ry="4.6" fill="#9447b0"/>
<ellipse cx="1111.6" cy="1096.41" rx="5.6" ry="4.6" fill="#9447b0"/>
<ellipse cx="1115.8" cy="1095.11" rx="5.6" ry="4.6" fill="#9447b0"/>
<ellipse cx="1120" cy="1096.95" rx="5.6" ry="4.6" fill="#9447b0"/>
<ellipse cx="1124.2" cy="1095.05" rx="5.6" ry="4.6" fill="#9447b0"/>
<ellipse cx="1128.4" cy="1096.5" rx="5.6" ry="4.6" fill="#9447b0"/>
<ellipse cx="1132.6" cy="1096.69" rx="5.6" ry="4.6" fill="#9447b0"/>
<ellipse cx="1136.8" cy="1095.04" rx="5.6" ry="4.6" fill="#9447b0"/>
<ellipse cx="1141" cy="1096.58" rx="5.6" ry="4.6" fill="#9447b0"/>
<ellipse cx="1145.2" cy="1095.73" rx="5.6" ry="4.6" fill="#9447b0"/>
<ellipse cx="1149.4" cy="1096.16" rx="5.6" ry="4.6" fill="#9447b0"/>
<ellipse cx="1153.6" cy="1095.02" rx="5.6" ry="4.6" fill="#9447b0"/>
<ellipse cx="1157.8" cy="1095.09" rx="5.6" ry="4.6" fill="#9447b0"/>
<ellipse cx="1162" cy="1095.36" rx="5.6" ry="4.6" fill="#9447b0"/>
<ellipse cx="1166.2" cy="1096.91" rx="5.6" ry="4.6" fill="#9447b0"/>
<ellipse cx="1170.4" cy="1095.39" rx="5.6" ry="4.6" fill="#9447b0"/>
<ellipse cx="1174.6" cy="1096.51" rx="5.6" ry="4.6" fill="#9447b0"/>
<ellipse cx="1178.8" cy="1096.86" rx="5.6" ry="4.6" fill="#9447b0"/>
<ellipse cx="1183" cy="1096.88" rx="5.6" ry="4.6" fill="#9447b0"/>
<ellipse cx="1187.2" cy="1095.69" rx="5.6" ry="4.6" fill="#9447b0"/>
<ellipse cx="1191.4" cy="1095.71" rx="5.6" ry="4.6" fill="#9447b0"/>
<ellipse cx="1195.6" cy="1096.05" rx="5.6" ry="4.6" fill="#9447b0"/>
<ellipse cx="1199.8" cy="1096.55" rx="5.6" ry="4.6" fill="#9447b0"/>
<ellipse cx="1204" cy="1095.22" rx="5.6" ry="4.6" fill="#9447b0"/>
<ellipse cx="1208.2" cy="1096.5" rx="5.6" ry="4.6" fill="#9447b0"/>
<ellipse cx="1212.4" cy="1096.59" rx="5.6" ry="4.6" fill="#9447b0"/>
<ellipse cx="1216.6" cy="1096.72" rx="5.6" ry="4.6" fill="#9447b0"/>
<ellipse cx="1220.8" cy="1095.07" rx="5.6" ry="4.6" fill="#9447b0"/>
<ellipse cx="1225" cy="1096.89" rx="5.6" ry="4.6" fill="#9447b0"/>
<ellipse cx="1229.2" cy="1095.18" rx="5.6" ry="4.6" fill="#9447b0"/>
<ellipse cx="1233.4" cy="1095.68" rx="5.6" ry="4.6" fill="#9447b0"/>
<ellipse cx="1237.6" cy="1096.22" rx="5.6" ry="4.6" fill="#9447b0"/>
<ellipse cx="1241.8" cy="1096.84" rx="5.6" ry="4.6" fill="#9447b0"/>
<ellipse cx="1246" cy="1095.68" rx="5.6" ry="4.6" fill="#9447b0"/>
<ellipse cx="1250.2" cy="1096.85" rx="5.6" ry="4.6" fill="#9447b0"/>
<ellipse cx="1254.4" cy="1096.09" rx="5.6" ry="4.6" fill="#9447b0"/>
<ellipse cx="1258.6" cy="1095.62" rx="5.6" ry="4.6" fill="#9447b0"/>
<ellipse cx="1262.8" cy="1095.63" rx="5.6" ry="4.6" fill="#9447b0"/>
<ellipse cx="1267" cy="1095.35" rx="5.6" ry="4.6" fill="#9447b0"/>
<ellipse cx="1271.2" cy="1095.16" rx="5.6" ry="4.6" fill="#9447b0"/>
<ellipse cx="1275.4" cy="1095.3" rx="5.6" ry="4.6" fill="#9447b0"/>
<ellipse cx="1279.6" cy="1096.38" rx="5.6" ry="4.6" fill="#9447b0"/>
<ellipse cx="1283.8" cy="1096.99" rx="5.6" ry="4.6" fill="#9447b0"/>
<ellipse cx="1288" cy="1095.32" rx="5.6" ry="4.6" fill="#9447b0"/>
<ellipse cx="1292.2" cy="1095.1" rx="5.6" ry="4.6" fill="#9447b0"/>
<ellipse cx="1296.4" cy="1096.97" rx="5.6" ry="4.6" fill="#9447b0"/>
<ellipse cx="1115" cy="1089" rx="5.8" ry="5" fill="#8b3da6"/>
<ellipse cx="1122" cy="1090" rx="5.8" ry="5" fill="#8b3da6"/>
<ellipse cx="1135" cy="1089.5" rx="5.8" ry="5" fill="#8b3da6"/>
<ellipse cx="1150" cy="1089" rx="5.8" ry="5" fill="#8b3da6"/>
<ellipse cx="1071.5" cy="1023.4" rx="5.2" ry="4.6" fill="#fff" stroke="#a56cc0" stroke-width="1.3"/>
<ellipse cx="1090.5" cy="1016" rx="5.2" ry="4.6" fill="#fff" stroke="#a56cc0" stroke-width="1.3"/>
<ellipse cx="1077" cy="1042.8" rx="5.2" ry="4.6" fill="#fff" stroke="#a56cc0" stroke-width="1.3"/>
<ellipse cx="1051.5" cy="1048.3" rx="5.2" ry="4.6" fill="#fff" stroke="#a56cc0" stroke-width="1.3"/>
<ellipse cx="1057.6" cy="1054.2" rx="5.2" ry="4.6" fill="#fff" stroke="#a56cc0" stroke-width="1.3"/>
<ellipse cx="1064.7" cy="1063.4" rx="5.2" ry="4.6" fill="#fff" stroke="#a56cc0" stroke-width="1.3"/>
<ellipse cx="1102.8" cy="1050.5" rx="5.2" ry="4.6" fill="#fff" stroke="#a56cc0" stroke-width="1.3"/>
<ellipse cx="1122.8" cy="1044.3" rx="5.2" ry="4.6" fill="#fff" stroke="#a56cc0" stroke-width="1.3"/>
<ellipse cx="1083.8" cy="1068.9" rx="5.2" ry="4.6" fill="#fff" stroke="#a56cc0" stroke-width="1.3"/>
<ellipse cx="1046" cy="1072" rx="5.2" ry="4.6" fill="#fff" stroke="#a56cc0" stroke-width="1.3"/>
<ellipse cx="1038.3" cy="1082.1" rx="5.2" ry="4.6" fill="#fff" stroke="#a56cc0" stroke-width="1.3"/>
<ellipse cx="1109.9" cy="1065.2" rx="5.2" ry="4.6" fill="#fff" stroke="#a56cc0" stroke-width="1.3"/>
<ellipse cx="1064.4" cy="764.6" rx="5.9" ry="5.1" fill="#8b3da6"/>
<ellipse cx="1070.9" cy="855.3" rx="5.9" ry="5.1" fill="#8b3da6"/>
<ellipse cx="1050.9" cy="913.1" rx="5.9" ry="5.1" fill="#8b3da6"/>
<ellipse cx="1057.6" cy="922.3" rx="5.9" ry="5.1" fill="#8b3da6"/>
<ellipse cx="1077" cy="978.2" rx="5.9" ry="5.1" fill="#8b3da6"/>
<ellipse cx="1083.8" cy="976.1" rx="5.9" ry="5.1" fill="#8b3da6"/>
<ellipse cx="1090.5" cy="992.1" rx="5.9" ry="5.1" fill="#8b3da6"/>
<ellipse cx="1044.7" cy="1017.6" rx="5.9" ry="5.1" fill="#8b3da6"/>
<ellipse cx="1097" cy="1025.9" rx="5.9" ry="5.1" fill="#8b3da6"/>
<ellipse cx="1038.3" cy="1066.5" rx="5.9" ry="5.1" fill="#8b3da6"/>
<ellipse cx="1102.8" cy="1066.5" rx="5.9" ry="5.1" fill="#8b3da6"/>
<ellipse cx="1109.3" cy="1079.1" rx="5.9" ry="5.1" fill="#8b3da6"/>
<ellipse cx="870.4" cy="1072.2" rx="5.9" ry="5.1" fill="#8b3da6"/>
<text x="783" y="1104.3" font-size="31.5" text-anchor="end">0</text>
<text x="783" y="1027.68" font-size="31.5" text-anchor="end">500</text>
<text x="783" y="951.06" font-size="31.5" text-anchor="end">1000</text>
<text x="783" y="874.44" font-size="31.5" text-anchor="end">1500</text>
<text x="783" y="797.82" font-size="31.5" text-anchor="end">2000</text>
<text x="783" y="721.2" font-size="31.5" text-anchor="end">2500</text>
<text x="901.65" y="1146" font-size="31.5" text-anchor="middle">3500</text>
<text x="1062.8" y="1146" font-size="31.5" text-anchor="middle">3750</text>
<text x="1223.6" y="1146" font-size="31.5" text-anchor="middle">4000</text>
<polyline points="1502.5,511.86 1503.1,511.85 1503.7,511.84 1504.3,511.83 1504.9,511.82 1505.5,511.81 1506.1,511.8 1506.7,511.79 1507.3,511.78 1507.9,511.77 1508.5,511.76 1509.1,511.75 1509.7,511.73 1510.3,511.72 1510.9,511.71 1511.5,511.69 1512.1,511.68 1512.7,511.66 1513.3,511.65 1513.9,511.63 1514.5,511.61 1515.1,511.59 1515.7,511.57 1516.3,511.55 1516.9,511.52 1517.5,511.5 1518.1,511.46 1518.7,511.43 1519.3,511.39 1519.9,511.34 1520.5,511.29 1521.1,511.23 1521.7,511.15 1522.3,511.06 1522.9,510.96 1523.5,510.83 1524.1,510.67 1524.7,510.49 1525.3,510.26 1525.9,509.99 1526.5,509.66 1527.1,509.27 1527.7,508.81 1528.3,508.25 1528.9,507.59 1529.5,506.82 1530.1,505.9 1530.7,504.84 1531.3,503.6 1531.9,502.17 1532.5,500.53 1533.1,498.66 1533.7,496.54 1534.3,494.15 1534.9,491.48 1535.5,488.51 1536.1,485.23 1536.7,481.63 1537.3,477.72 1537.9,473.48 1538.5,468.95 1539.1,464.12 1539.7,459.03 1540.3,453.7 1540.9,448.17 1541.5,442.49 1542.1,436.71 1542.7,430.88 1543.3,425.08 1543.9,419.36 1544.5,413.81 1545.1,408.49 1545.7,403.48 1546.3,398.86 1546.9,394.69 1547.5,391.04 1548.1,387.96 1548.7,385.52 1549.3,383.74 1549.9,382.66 1550.5,382.3 1551.1,382.61 1551.7,383.55 1552.3,385.09 1552.9,387.22 1553.5,389.9 1554.1,393.09 1554.7,396.76 1555.3,400.85 1555.9,405.31 1556.5,410.07 1557.1,415.08 1557.7,420.28 1558.3,425.62 1558.9,431.02 1559.5,436.44 1560.1,441.82 1560.7,447.13 1561.3,452.31 1561.9,457.32 1562.5,462.14 1563.1,466.74 1563.7,471.1 1564.3,475.19 1564.9,479.02 1565.5,482.58 1566.1,485.86 1566.7,488.87 1567.3,491.61 1567.9,494.1 1568.5,496.33 1569.1,498.34 1569.7,500.12 1570.3,501.7 1570.9,503.09 1571.5,504.31 1572.1,505.38 1572.7,506.3 1573.3,507.1 1573.9,507.79 1574.5,508.38 1575.1,508.88 1575.7,509.3 1576.3,509.66 1576.9,509.97 1577.5,510.23 1578.1,510.44 1578.7,510.62 1579.3,510.78 1579.9,510.9 1580.5,511.01 1581.1,511.1 1581.7,511.18 1582.3,511.25 1582.9,511.3 1583.5,511.35 1584.1,511.39 1584.7,511.43 1585.3,511.46 1585.9,511.49 1586.5,511.52 1587.1,511.54 1587.7,511.56 1588.3,511.58 1588.9,511.6 1589.5,511.62 1590.1,511.64 1590.7,511.65 1591.3,511.67 1591.9,511.68 1592.5,511.7 1593.1,511.71 1593.7,511.72 1594.3,511.73 1594.9,511.74 1595.5,511.76 1596.1,511.77 1596.7,511.78 1597.3,511.79 1597.9,511.8 1598.5,511.81 1599.1,511.81 1599.7,511.82 1600.3,511.83 1600.9,511.84 1601.5,511.85 1602.1,511.86 1602.7,511.86 1603.3,511.87 1603.9,511.88 1604.5,511.88 1605.1,511.89 1605.7,511.9 1606.3,511.9 1606.9,511.91 1607.5,511.91 1608.1,511.92 1608.7,511.92 1609.3,511.93 1609.9,511.94 1610.5,511.94" fill="none" stroke="#b04ea8" stroke-width="3" stroke-linejoin="round"/>
<polyline points="1543.6,511.66 1544.2,511.65 1544.8,511.64 1545.4,511.62 1546,511.61 1546.6,511.6 1547.2,511.58 1547.8,511.57 1548.4,511.55 1549,511.54 1549.6,511.52 1550.2,511.5 1550.8,511.49 1551.4,511.47 1552,511.45 1552.6,511.43 1553.2,511.41 1553.8,511.39 1554.4,511.37 1555,511.34 1555.6,511.32 1556.2,511.29 1556.8,511.27 1557.4,511.24 1558,511.2 1558.6,511.17 1559.2,511.13 1559.8,511.09 1560.4,511.05 1561,511 1561.6,510.94 1562.2,510.87 1562.8,510.8 1563.4,510.71 1564,510.61 1564.6,510.49 1565.2,510.34 1565.8,510.17 1566.4,509.97 1567,509.73 1567.6,509.45 1568.2,509.11 1568.8,508.71 1569.4,508.23 1570,507.67 1570.6,507 1571.2,506.22 1571.8,505.3 1572.4,504.22 1573,502.97 1573.6,501.53 1574.2,499.86 1574.8,497.95 1575.4,495.78 1576,493.3 1576.6,490.51 1577.2,487.38 1577.8,483.88 1578.4,479.99 1579,475.71 1579.6,471 1580.2,465.87 1580.8,460.3 1581.4,454.31 1582,447.9 1582.6,441.09 1583.2,433.89 1583.8,426.35 1584.4,418.51 1585,410.41 1585.6,402.11 1586.2,393.69 1586.8,385.21 1587.4,376.76 1588,368.42 1588.6,360.28 1589.2,352.44 1589.8,344.99 1590.4,338.02 1591,331.62 1591.6,325.88 1592.2,320.88 1592.8,316.69 1593.4,313.36 1594,310.95 1594.6,309.49 1595.2,309 1595.8,309.54 1596.4,311.15 1597,313.79 1597.6,317.44 1598.2,322.03 1598.8,327.49 1599.4,333.74 1600,340.67 1600.6,348.2 1601.2,356.22 1601.8,364.62 1602.4,373.28 1603,382.11 1603.6,391 1604.2,399.86 1604.8,408.6 1605.4,417.14 1606,425.41 1606.6,433.35 1607.2,440.92 1607.8,448.06 1608.4,454.77 1609,461.01 1609.6,466.77 1610.2,472.07 1610.8,476.9 1611.4,481.27 1612,485.2 1612.6,488.72 1613.2,491.85 1613.8,494.61 1614.4,497.03 1615,499.15 1615.6,500.99 1616.2,502.57 1616.8,503.94 1617.4,505.1 1618,506.09 1618.6,506.93 1619.2,507.64 1619.8,508.23 1620.4,508.73 1621,509.15 1621.6,509.5 1622.2,509.78 1622.8,510.03 1623.4,510.23 1624,510.39 1624.6,510.53 1625.2,510.65 1625.8,510.75 1626.4,510.84 1627,510.91 1627.6,510.98 1628.2,511.03 1628.8,511.08 1629.4,511.12 1630,511.16 1630.6,511.2 1631.2,511.23 1631.8,511.27 1632.4,511.29 1633,511.32 1633.6,511.35 1634.2,511.37 1634.8,511.39 1635.4,511.42 1636,511.44 1636.6,511.46 1637.2,511.48 1637.8,511.5 1638.4,511.51 1639,511.53 1639.6,511.55 1640.2,511.56 1640.8,511.58 1641.4,511.59 1642,511.61 1642.6,511.62 1643.2,511.63 1643.8,511.65 1644.4,511.66 1645,511.67 1645.6,511.68 1646.2,511.7 1646.8,511.71 1647.4,511.72 1648,511.73 1648.6,511.74 1649.2,511.75 1649.8,511.76 1650.4,511.77 1651,511.77 1651.6,511.78 1652.2,511.79" fill="none" stroke="#5cc4d6" stroke-width="3" stroke-linejoin="round"/>
<polyline points="1598.6,511.36 1599.2,511.34 1599.8,511.32 1600.4,511.3 1601,511.28 1601.6,511.26 1602.2,511.24 1602.8,511.22 1603.4,511.2 1604,511.18 1604.6,511.15 1605.2,511.13 1605.8,511.1 1606.4,511.08 1607,511.05 1607.6,511.02 1608.2,510.99 1608.8,510.96 1609.4,510.93 1610,510.9 1610.6,510.86 1611.2,510.83 1611.8,510.79 1612.4,510.75 1613,510.7 1613.6,510.65 1614.2,510.6 1614.8,510.55 1615.4,510.49 1616,510.42 1616.6,510.35 1617.2,510.27 1617.8,510.18 1618.4,510.07 1619,509.95 1619.6,509.81 1620.2,509.64 1620.8,509.45 1621.4,509.23 1622,508.96 1622.6,508.65 1623.2,508.28 1623.8,507.85 1624.4,507.34 1625,506.73 1625.6,506.02 1626.2,505.18 1626.8,504.2 1627.4,503.05 1628,501.71 1628.6,500.16 1629.2,498.37 1629.8,496.3 1630.4,493.94 1631,491.24 1631.6,488.16 1632.2,484.69 1632.8,480.78 1633.4,476.4 1634,471.52 1634.6,466.11 1635.2,460.14 1635.8,453.59 1636.4,446.44 1637,438.68 1637.6,430.31 1638.2,421.33 1638.8,411.76 1639.4,401.61 1640,390.92 1640.6,379.73 1641.2,368.11 1641.8,356.1 1642.4,343.81 1643,331.3 1643.6,318.69 1644.2,306.07 1644.8,293.56 1645.4,281.29 1646,269.38 1646.6,257.96 1647.2,247.14 1647.8,237.07 1648.4,227.86 1649,219.62 1649.6,212.46 1650.2,206.46 1650.8,201.72 1651.4,198.28 1652,196.2 1652.6,195.5 1653.2,196.03 1653.8,197.62 1654.4,200.26 1655,203.91 1655.6,208.53 1656.2,214.09 1656.8,220.53 1657.4,227.78 1658,235.77 1658.6,244.43 1659.2,253.68 1659.8,263.43 1660.4,273.61 1661,284.12 1661.6,294.89 1662.2,305.82 1662.8,316.85 1663.4,327.88 1664,338.85 1664.6,349.69 1665.2,360.34 1665.8,370.74 1666.4,380.84 1667,390.6 1667.6,399.98 1668.2,408.96 1668.8,417.5 1669.4,425.59 1670,433.23 1670.6,440.39 1671.2,447.09 1671.8,453.32 1672.4,459.1 1673,464.43 1673.6,469.33 1674.2,473.81 1674.8,477.9 1675.4,481.62 1676,484.98 1676.6,488.01 1677.2,490.73 1677.8,493.16 1678.4,495.33 1679,497.26 1679.6,498.97 1680.2,500.48 1680.8,501.81 1681.4,502.98 1682,504 1682.6,504.89 1683.2,505.67 1683.8,506.34 1684.4,506.93 1685,507.44 1685.6,507.88 1686.2,508.26 1686.8,508.59 1687.4,508.87 1688,509.12 1688.6,509.33 1689.2,509.51 1689.8,509.67 1690.4,509.81 1691,509.94 1691.6,510.05 1692.2,510.14 1692.8,510.23 1693.4,510.3 1694,510.37 1694.6,510.44 1695.2,510.49 1695.8,510.54 1696.4,510.59 1697,510.64 1697.6,510.68 1698.2,510.72 1698.8,510.76 1699.4,510.79 1700,510.83 1700.6,510.86 1701.2,510.89 1701.8,510.92 1702.4,510.95 1703,510.97 1703.6,511 1704.2,511.03 1704.8,511.05 1705.4,511.07 1706,511.1 1706.6,511.12 1707.2,511.14 1707.8,511.16 1708.4,511.18 1709,511.2 1709.6,511.22 1710.2,511.24 1710.8,511.26 1711.4,511.28 1712,511.29 1712.6,511.31 1713.2,511.33 1713.8,511.34 1714.4,511.36 1715,511.37 1715.6,511.39 1716.2,511.4 1716.8,511.42 1717.4,511.43 1718,511.44 1718.6,511.46 1719.2,511.47 1719.8,511.48 1720.4,511.49 1721,511.5 1721.6,511.52 1722.2,511.53 1722.8,511.54 1723.4,511.55 1724,511.56 1724.6,511.57" fill="none" stroke="#e5202a" stroke-width="3" stroke-linejoin="round"/>
<polyline points="1655.4,511.31 1656,511.29 1656.6,511.27 1657.2,511.25 1657.8,511.23 1658.4,511.2 1659,511.18 1659.6,511.16 1660.2,511.14 1660.8,511.11 1661.4,511.09 1662,511.06 1662.6,511.03 1663.2,511.01 1663.8,510.98 1664.4,510.95 1665,510.92 1665.6,510.88 1666.2,510.85 1666.8,510.81 1667.4,510.78 1668,510.74 1668.6,510.7 1669.2,510.65 1669.8,510.61 1670.4,510.56 1671,510.5 1671.6,510.44 1672.2,510.38 1672.8,510.31 1673.4,510.23 1674,510.14 1674.6,510.05 1675.2,509.93 1675.8,509.8 1676.4,509.65 1677,509.48 1677.6,509.28 1678.2,509.04 1678.8,508.76 1679.4,508.43 1680,508.03 1680.6,507.57 1681.2,507.02 1681.8,506.38 1682.4,505.62 1683,504.73 1683.6,503.68 1684.2,502.46 1684.8,501.04 1685.4,499.39 1686,497.48 1686.6,495.29 1687.2,492.77 1687.8,489.89 1688.4,486.62 1689,482.93 1689.6,478.77 1690.2,474.11 1690.8,468.92 1691.4,463.16 1692,456.8 1692.6,449.83 1693.2,442.23 1693.8,433.97 1694.4,425.06 1695,415.51 1695.6,405.32 1696.2,394.52 1696.8,383.14 1697.4,371.24 1698,358.87 1698.6,346.1 1699.2,333.01 1699.8,319.71 1700.4,306.28 1701,292.86 1701.6,279.55 1702.2,266.49 1702.8,253.82 1703.4,241.66 1704,230.16 1704.6,219.44 1705.2,209.63 1705.8,200.87 1706.4,193.24 1707,186.87 1707.6,181.81 1708.2,178.16 1708.8,175.94 1709.4,175.2 1710,175.72 1710.6,177.26 1711.2,179.81 1711.8,183.35 1712.4,187.84 1713,193.24 1713.6,199.51 1714.2,206.59 1714.8,214.41 1715.4,222.91 1716,232.02 1716.6,241.66 1717.2,251.75 1717.8,262.22 1718.4,272.98 1719,283.96 1719.6,295.09 1720.2,306.28 1720.8,317.47 1721.4,328.6 1722,339.59 1722.6,350.39 1723.2,360.96 1723.8,371.24 1724.4,381.2 1725,390.79 1725.6,399.99 1726.2,408.79 1726.8,417.15 1727.4,425.06 1728,432.53 1728.6,439.55 1729.2,446.11 1729.8,452.23 1730.4,457.9 1731,463.16 1731.6,468 1732.2,472.44 1732.8,476.5 1733.4,480.21 1734,483.58 1734.6,486.62 1735.2,489.38 1735.8,491.85 1736.4,494.07 1737,496.05 1737.6,497.82 1738.2,499.39 1738.8,500.78 1739.4,502.01 1740,503.1 1740.6,504.05 1741.2,504.89 1741.8,505.62 1742.4,506.26 1743,506.82 1743.6,507.31 1744.2,507.73 1744.8,508.1 1745.4,508.43 1746,508.71 1746.6,508.95 1747.2,509.16 1747.8,509.35 1748.4,509.51 1749,509.65 1749.6,509.78 1750.2,509.89 1750.8,509.99 1751.4,510.08 1752,510.16 1752.6,510.23 1753.2,510.3 1753.8,510.36 1754.4,510.41 1755,510.46 1755.6,510.51 1756.2,510.56 1756.8,510.6 1757.4,510.64 1758,510.67 1758.6,510.71 1759.2,510.74 1759.8,510.78 1760.4,510.81 1761,510.84 1761.6,510.87 1762.2,510.89 1762.8,510.92 1763.4,510.95 1764,510.97 1764.6,511 1765.2,511.02 1765.8,511.04 1766.4,511.07 1767,511.09 1767.6,511.11 1768.2,511.13 1768.8,511.15 1769.4,511.17 1770,511.19 1770.6,511.2 1771.2,511.22 1771.8,511.24 1772.4,511.26 1773,511.27 1773.6,511.29 1774.2,511.31 1774.8,511.32 1775.4,511.34 1776,511.35 1776.6,511.36 1777.2,511.38 1777.8,511.39 1778.4,511.4 1779,511.42 1779.6,511.43 1780.2,511.44 1780.8,511.45 1781.4,511.47 1782,511.48 1782.6,511.49 1783.2,511.5 1783.8,511.51 1784.4,511.52 1785,511.53" fill="none" stroke="#64b948" stroke-width="3" stroke-linejoin="round"/>
<polyline points="1726.4,511.48 1727,511.46 1727.6,511.45 1728.2,511.43 1728.8,511.42 1729.4,511.4 1730,511.38 1730.6,511.37 1731.2,511.35 1731.8,511.33 1732.4,511.31 1733,511.29 1733.6,511.27 1734.2,511.25 1734.8,511.23 1735.4,511.21 1736,511.19 1736.6,511.16 1737.2,511.14 1737.8,511.11 1738.4,511.09 1739,511.06 1739.6,511.03 1740.2,511 1740.8,510.97 1741.4,510.93 1742,510.9 1742.6,510.86 1743.2,510.82 1743.8,510.77 1744.4,510.72 1745,510.67 1745.6,510.61 1746.2,510.54 1746.8,510.47 1747.4,510.39 1748,510.29 1748.6,510.18 1749.2,510.06 1749.8,509.91 1750.4,509.74 1751,509.55 1751.6,509.32 1752.2,509.05 1752.8,508.74 1753.4,508.38 1754,507.95 1754.6,507.46 1755.2,506.88 1755.8,506.21 1756.4,505.43 1757,504.52 1757.6,503.48 1758.2,502.28 1758.8,500.9 1759.4,499.33 1760,497.54 1760.6,495.51 1761.2,493.21 1761.8,490.62 1762.4,487.73 1763,484.49 1763.6,480.9 1764.2,476.92 1764.8,472.54 1765.4,467.74 1766,462.5 1766.6,456.81 1767.2,450.66 1767.8,444.05 1768.4,436.97 1769,429.44 1769.6,421.47 1770.2,413.07 1770.8,404.28 1771.4,395.13 1772,385.66 1772.6,375.92 1773.2,365.97 1773.8,355.87 1774.4,345.69 1775,335.51 1775.6,325.41 1776.2,315.48 1776.8,305.8 1777.4,296.46 1778,287.56 1778.6,279.18 1779.2,271.41 1779.8,264.33 1780.4,258.03 1781,252.57 1781.6,248.01 1782.2,244.41 1782.8,241.8 1783.4,240.23 1784,239.7 1784.6,240.1 1785.2,241.3 1785.8,243.29 1786.4,246.05 1787,249.56 1787.6,253.78 1788.2,258.68 1788.8,264.21 1789.4,270.33 1790,276.99 1790.6,284.14 1791.2,291.71 1791.8,299.64 1792.4,307.88 1793,316.37 1793.6,325.05 1794.2,333.85 1794.8,342.73 1795.4,351.62 1796,360.48 1796.6,369.25 1797.2,377.89 1797.8,386.36 1798.4,394.62 1799,402.65 1799.6,410.4 1800.2,417.86 1800.8,425 1801.4,431.82 1802,438.29 1802.6,444.42 1803.2,450.2 1803.8,455.62 1804.4,460.69 1805,465.41 1805.6,469.8 1806.2,473.86 1806.8,477.6 1807.4,481.04 1808,484.18 1808.6,487.05 1809.2,489.66 1809.8,492.02 1810.4,494.16 1811,496.09 1811.6,497.81 1812.2,499.36 1812.8,500.74 1813.4,501.97 1814,503.06 1814.6,504.03 1815.2,504.88 1815.8,505.64 1816.4,506.3 1817,506.88 1817.6,507.39 1818.2,507.84 1818.8,508.22 1819.4,508.56 1820,508.86 1820.6,509.12 1821.2,509.35 1821.8,509.54 1822.4,509.72 1823,509.87 1823.6,510 1824.2,510.12 1824.8,510.22 1825.4,510.31 1826,510.39 1826.6,510.47 1827.2,510.53 1827.8,510.59 1828.4,510.64 1829,510.69 1829.6,510.74 1830.2,510.78 1830.8,510.82 1831.4,510.86 1832,510.89 1832.6,510.92 1833.2,510.95 1833.8,510.98 1834.4,511.01 1835,511.03 1835.6,511.06 1836.2,511.08 1836.8,511.11 1837.4,511.13 1838,511.15 1838.6,511.17 1839.2,511.19 1839.8,511.21 1840.4,511.23 1841,511.25 1841.6,511.27 1842.2,511.29 1842.8,511.3 1843.4,511.32 1844,511.34 1844.6,511.35 1845.2,511.37 1845.8,511.38 1846.4,511.4 1847,511.41 1847.6,511.42 1848.2,511.44 1848.8,511.45 1849.4,511.46 1850,511.48 1850.6,511.49 1851.2,511.5 1851.8,511.51 1852.4,511.52 1853,511.53 1853.6,511.54 1854.2,511.56 1854.8,511.57 1855.4,511.58 1856,511.59 1856.6,511.59 1857.2,511.6 1857.8,511.61 1858.4,511.62 1859,511.63 1859.6,511.64 1860.2,511.65 1860.8,511.66" fill="none" stroke="#111111" stroke-width="3" stroke-linejoin="round"/>
<polyline points="1814.4,511.69 1815,511.68 1815.6,511.67 1816.2,511.66 1816.8,511.64 1817.4,511.63 1818,511.62 1818.6,511.6 1819.2,511.59 1819.8,511.57 1820.4,511.56 1821,511.54 1821.6,511.52 1822.2,511.5 1822.8,511.48 1823.4,511.46 1824,511.44 1824.6,511.42 1825.2,511.4 1825.8,511.38 1826.4,511.35 1827,511.32 1827.6,511.29 1828.2,511.26 1828.8,511.23 1829.4,511.19 1830,511.15 1830.6,511.1 1831.2,511.05 1831.8,510.99 1832.4,510.92 1833,510.84 1833.6,510.75 1834.2,510.64 1834.8,510.51 1835.4,510.35 1836,510.16 1836.6,509.93 1837.2,509.66 1837.8,509.34 1838.4,508.94 1839,508.48 1839.6,507.92 1840.2,507.25 1840.8,506.47 1841.4,505.54 1842,504.44 1842.6,503.16 1843.2,501.68 1843.8,499.95 1844.4,497.97 1845,495.69 1845.6,493.1 1846.2,490.17 1846.8,486.86 1847.4,483.17 1848,479.07 1848.6,474.54 1849.2,469.57 1849.8,464.16 1850.4,458.3 1851,452.01 1851.6,445.3 1852.2,438.2 1852.8,430.75 1853.4,422.99 1854,414.98 1854.6,406.77 1855.2,398.46 1855.8,390.11 1856.4,381.83 1857,373.69 1857.6,365.82 1858.2,358.29 1858.8,351.23 1859.4,344.71 1860,338.85 1860.6,333.73 1861.2,329.42 1861.8,326 1862.4,323.51 1863,322.01 1863.6,321.5 1864.2,321.93 1864.8,323.21 1865.4,325.33 1866,328.25 1866.6,331.93 1867.2,336.34 1867.8,341.4 1868.4,347.06 1869,353.24 1869.6,359.86 1870.2,366.86 1870.8,374.15 1871.4,381.64 1872,389.27 1872.6,396.96 1873.2,404.63 1873.8,412.23 1874.4,419.68 1875,426.95 1875.6,433.97 1876.2,440.72 1876.8,447.15 1877.4,453.24 1878,458.98 1878.6,464.35 1879.2,469.34 1879.8,473.95 1880.4,478.19 1881,482.06 1881.6,485.58 1882.2,488.77 1882.8,491.63 1883.4,494.19 1884,496.46 1884.6,498.48 1885.2,500.26 1885.8,501.82 1886.4,503.18 1887,504.36 1887.6,505.39 1888.2,506.27 1888.8,507.03 1889.4,507.68 1890,508.23 1890.6,508.7 1891.2,509.1 1891.8,509.44 1892.4,509.73 1893,509.97 1893.6,510.17 1894.2,510.35 1894.8,510.49 1895.4,510.62 1896,510.72 1896.6,510.81 1897.2,510.89 1897.8,510.96 1898.4,511.02 1899,511.07 1899.6,511.12 1900.2,511.16 1900.8,511.2 1901.4,511.23 1902,511.26 1902.6,511.29 1903.2,511.32 1903.8,511.34 1904.4,511.37 1905,511.39 1905.6,511.41 1906.2,511.43 1906.8,511.45 1907.4,511.47 1908,511.49 1908.6,511.51 1909.2,511.52 1909.8,511.54 1910.4,511.55 1911,511.57 1911.6,511.58 1912.2,511.6 1912.8,511.61 1913.4,511.62 1914,511.64 1914.6,511.65 1915.2,511.66 1915.8,511.67 1916.4,511.68 1917,511.69 1917.6,511.7 1918.2,511.71 1918.8,511.72 1919.4,511.73 1920,511.74 1920.6,511.75 1921.2,511.76 1921.8,511.77 1922.4,511.78 1923,511.79 1923.6,511.79 1924.2,511.8 1924.8,511.81 1925.4,511.82" fill="none" stroke="#2e47a0" stroke-width="3" stroke-linejoin="round"/>
<rect x="1464.5" y="118.5" width="503.0" height="395.20000000000005" fill="none" stroke="#111" stroke-width="3"/>
<line x1="1464.5" y1="327.3" x2="1471.5" y2="327.3" stroke="#111" stroke-width="3"/>
<line x1="1960.5" y1="327.3" x2="1967.5" y2="327.3" stroke="#111" stroke-width="3"/>
<line x1="1464.5" y1="140.7" x2="1471.5" y2="140.7" stroke="#111" stroke-width="3"/>
<line x1="1960.5" y1="140.7" x2="1967.5" y2="140.7" stroke="#111" stroke-width="3"/>
<line x1="1766" y1="513.2" x2="1768.2" y2="513.2" stroke="#b04ea8" stroke-width="3"/>
<line x1="1768.2" y1="513.2" x2="1770.4" y2="513.2" stroke="#5cc4d6" stroke-width="3"/>
<line x1="1770.4" y1="513.2" x2="1772.6" y2="513.2" stroke="#64b948" stroke-width="3"/>
<line x1="1772.6" y1="513.2" x2="1774.8" y2="513.2" stroke="#2e47a0" stroke-width="3"/>
<line x1="1774.8" y1="513.2" x2="1777" y2="513.2" stroke="#2e47a0" stroke-width="3"/>
<line x1="1777" y1="513.2" x2="1779.2" y2="513.2" stroke="#b04ea8" stroke-width="3"/>
<line x1="1779.2" y1="513.2" x2="1781.4" y2="513.2" stroke="#64b948" stroke-width="3"/>
<line x1="1781.4" y1="513.2" x2="1783.6" y2="513.2" stroke="#64b948" stroke-width="3"/>
<line x1="1783.6" y1="513.2" x2="1785.8" y2="513.2" stroke="#64b948" stroke-width="3"/>
<line x1="1785.8" y1="513.2" x2="1788" y2="513.2" stroke="#2e47a0" stroke-width="3"/>
<line x1="1788" y1="513.2" x2="1790.2" y2="513.2" stroke="#5cc4d6" stroke-width="3"/>
<line x1="1790.2" y1="513.2" x2="1792.4" y2="513.2" stroke="#64b948" stroke-width="3"/>
<line x1="1792.4" y1="513.2" x2="1794.6" y2="513.2" stroke="#b04ea8" stroke-width="3"/>
<line x1="1794.6" y1="513.2" x2="1796.8" y2="513.2" stroke="#5cc4d6" stroke-width="3"/>
<line x1="1796.8" y1="513.2" x2="1799" y2="513.2" stroke="#5cc4d6" stroke-width="3"/>
<line x1="1799" y1="513.2" x2="1801.2" y2="513.2" stroke="#b04ea8" stroke-width="3"/>
<line x1="1801.2" y1="513.2" x2="1803.4" y2="513.2" stroke="#64b948" stroke-width="3"/>
<line x1="1803.4" y1="513.2" x2="1805.6" y2="513.2" stroke="#5cc4d6" stroke-width="3"/>
<line x1="1805.6" y1="513.2" x2="1807.8" y2="513.2" stroke="#b04ea8" stroke-width="3"/>
<line x1="1807.8" y1="513.2" x2="1810" y2="513.2" stroke="#64b948" stroke-width="3"/>
<line x1="1810" y1="513.2" x2="1812.2" y2="513.2" stroke="#5cc4d6" stroke-width="3"/>
<line x1="1812.2" y1="513.2" x2="1814.4" y2="513.2" stroke="#5cc4d6" stroke-width="3"/>
<line x1="1814.4" y1="513.2" x2="1816.6" y2="513.2" stroke="#b04ea8" stroke-width="3"/>
<line x1="1816.6" y1="513.2" x2="1818.8" y2="513.2" stroke="#b04ea8" stroke-width="3"/>
<line x1="1818.8" y1="513.2" x2="1821" y2="513.2" stroke="#5cc4d6" stroke-width="3"/>
<line x1="1821" y1="513.2" x2="1823.2" y2="513.2" stroke="#5cc4d6" stroke-width="3"/>
<line x1="1823.2" y1="513.2" x2="1825.4" y2="513.2" stroke="#5cc4d6" stroke-width="3"/>
<line x1="1825.4" y1="513.2" x2="1827.6" y2="513.2" stroke="#64b948" stroke-width="3"/>
<line x1="1827.6" y1="513.2" x2="1829.8" y2="513.2" stroke="#5cc4d6" stroke-width="3"/>
<line x1="1829.8" y1="513.2" x2="1832" y2="513.2" stroke="#2e47a0" stroke-width="3"/>
<line x1="1832" y1="513.2" x2="1834.2" y2="513.2" stroke="#b04ea8" stroke-width="3"/>
<line x1="1834.2" y1="513.2" x2="1836.4" y2="513.2" stroke="#b04ea8" stroke-width="3"/>
<line x1="1836.4" y1="513.2" x2="1838.6" y2="513.2" stroke="#b04ea8" stroke-width="3"/>
<line x1="1838.6" y1="513.2" x2="1840.8" y2="513.2" stroke="#2e47a0" stroke-width="3"/>
<line x1="1840.8" y1="513.2" x2="1843" y2="513.2" stroke="#5cc4d6" stroke-width="3"/>
<line x1="1843" y1="513.2" x2="1845.2" y2="513.2" stroke="#64b948" stroke-width="3"/>
<line x1="1845.2" y1="513.2" x2="1847.4" y2="513.2" stroke="#5cc4d6" stroke-width="3"/>
<line x1="1847.4" y1="513.2" x2="1849.6" y2="513.2" stroke="#64b948" stroke-width="3"/>
<line x1="1849.6" y1="513.2" x2="1851.8" y2="513.2" stroke="#5cc4d6" stroke-width="3"/>
<line x1="1851.8" y1="513.2" x2="1854" y2="513.2" stroke="#5cc4d6" stroke-width="3"/>
<line x1="1854" y1="513.2" x2="1856.2" y2="513.2" stroke="#b04ea8" stroke-width="3"/>
<line x1="1856.2" y1="513.2" x2="1858.4" y2="513.2" stroke="#2e47a0" stroke-width="3"/>
<line x1="1858.4" y1="513.2" x2="1860.6" y2="513.2" stroke="#2e47a0" stroke-width="3"/>
<line x1="1860.6" y1="513.2" x2="1862.8" y2="513.2" stroke="#5cc4d6" stroke-width="3"/>
<line x1="1862.8" y1="513.2" x2="1865" y2="513.2" stroke="#2e47a0" stroke-width="3"/>
<line x1="1865" y1="513.2" x2="1867.2" y2="513.2" stroke="#2e47a0" stroke-width="3"/>
<line x1="1867.2" y1="513.2" x2="1869.4" y2="513.2" stroke="#b04ea8" stroke-width="3"/>
<line x1="1869.4" y1="513.2" x2="1871.6" y2="513.2" stroke="#b04ea8" stroke-width="3"/>
<line x1="1871.6" y1="513.2" x2="1873.8" y2="513.2" stroke="#5cc4d6" stroke-width="3"/>
<line x1="1873.8" y1="513.2" x2="1876" y2="513.2" stroke="#5cc4d6" stroke-width="3"/>
<line x1="1876" y1="513.2" x2="1878.2" y2="513.2" stroke="#64b948" stroke-width="3"/>
<line x1="1878.2" y1="513.2" x2="1880.4" y2="513.2" stroke="#64b948" stroke-width="3"/>
<line x1="1880.4" y1="513.2" x2="1882.6" y2="513.2" stroke="#64b948" stroke-width="3"/>
<line x1="1882.6" y1="513.2" x2="1884.8" y2="513.2" stroke="#2e47a0" stroke-width="3"/>
<line x1="1884.8" y1="513.2" x2="1887" y2="513.2" stroke="#5cc4d6" stroke-width="3"/>
<line x1="1887" y1="513.2" x2="1889.2" y2="513.2" stroke="#2e47a0" stroke-width="3"/>
<line x1="1889.2" y1="513.2" x2="1891.4" y2="513.2" stroke="#5cc4d6" stroke-width="3"/>
<line x1="1891.4" y1="513.2" x2="1893.6" y2="513.2" stroke="#5cc4d6" stroke-width="3"/>
<line x1="1893.6" y1="513.2" x2="1895.8" y2="513.2" stroke="#64b948" stroke-width="3"/>
<line x1="1895.8" y1="513.2" x2="1898" y2="513.2" stroke="#5cc4d6" stroke-width="3"/>
<line x1="1898" y1="513.2" x2="1900.2" y2="513.2" stroke="#5cc4d6" stroke-width="3"/>
<line x1="1900.2" y1="513.2" x2="1902.4" y2="513.2" stroke="#5cc4d6" stroke-width="3"/>
<line x1="1902.4" y1="513.2" x2="1904.6" y2="513.2" stroke="#5cc4d6" stroke-width="3"/>
<line x1="1904.6" y1="513.2" x2="1906.8" y2="513.2" stroke="#64b948" stroke-width="3"/>
<line x1="1906.8" y1="513.2" x2="1909" y2="513.2" stroke="#64b948" stroke-width="3"/>
<line x1="1909" y1="513.2" x2="1911.2" y2="513.2" stroke="#5cc4d6" stroke-width="3"/>
<line x1="1911.2" y1="513.2" x2="1913.4" y2="513.2" stroke="#5cc4d6" stroke-width="3"/>
<line x1="1913.4" y1="513.2" x2="1915.6" y2="513.2" stroke="#5cc4d6" stroke-width="3"/>
<line x1="1915.6" y1="513.2" x2="1917.8" y2="513.2" stroke="#5cc4d6" stroke-width="3"/>
<line x1="1917.8" y1="513.2" x2="1920" y2="513.2" stroke="#5cc4d6" stroke-width="3"/>
<line x1="1920" y1="513.2" x2="1922.2" y2="513.2" stroke="#64b948" stroke-width="3"/>
<line x1="1922.2" y1="513.2" x2="1924.4" y2="513.2" stroke="#64b948" stroke-width="3"/>
<line x1="1924.4" y1="513.2" x2="1926.6" y2="513.2" stroke="#5cc4d6" stroke-width="3"/>
<line x1="1926.6" y1="513.2" x2="1928.8" y2="513.2" stroke="#64b948" stroke-width="3"/>
<line x1="1928.8" y1="513.2" x2="1931" y2="513.2" stroke="#64b948" stroke-width="3"/>
<line x1="1931" y1="513.2" x2="1933.2" y2="513.2" stroke="#5cc4d6" stroke-width="3"/>
<line x1="1933.2" y1="513.2" x2="1935.4" y2="513.2" stroke="#5cc4d6" stroke-width="3"/>
<line x1="1935.4" y1="513.2" x2="1937.6" y2="513.2" stroke="#5cc4d6" stroke-width="3"/>
<line x1="1937.6" y1="513.2" x2="1939.8" y2="513.2" stroke="#5cc4d6" stroke-width="3"/>
<line x1="1939.8" y1="513.2" x2="1942" y2="513.2" stroke="#64b948" stroke-width="3"/>
<line x1="1942" y1="513.2" x2="1944.2" y2="513.2" stroke="#e5202a" stroke-width="3"/>
<line x1="1944.2" y1="513.2" x2="1946.4" y2="513.2" stroke="#e5202a" stroke-width="3"/>
<line x1="1946.4" y1="513.2" x2="1948.6" y2="513.2" stroke="#e5202a" stroke-width="3"/>
<line x1="1948.6" y1="513.2" x2="1950.8" y2="513.2" stroke="#e5202a" stroke-width="3"/>
<line x1="1950.8" y1="513.2" x2="1953" y2="513.2" stroke="#e5202a" stroke-width="3"/>
<line x1="1953" y1="513.2" x2="1955.2" y2="513.2" stroke="#e5202a" stroke-width="3"/>
<line x1="1955.2" y1="513.2" x2="1957.4" y2="513.2" stroke="#e5202a" stroke-width="3"/>
<line x1="1957.4" y1="513.2" x2="1959.6" y2="513.2" stroke="#e5202a" stroke-width="3"/>
<line x1="1959.6" y1="513.2" x2="1961.8" y2="513.2" stroke="#e5202a" stroke-width="3"/>
<line x1="1961.8" y1="513.2" x2="1964" y2="513.2" stroke="#e5202a" stroke-width="3"/>
<line x1="1964" y1="513.2" x2="1966.2" y2="513.2" stroke="#e5202a" stroke-width="3"/>
<line x1="1465" y1="513.2" x2="1472" y2="513.2" stroke="#e5202a" stroke-width="3"/>
<line x1="1716" y1="118.5" x2="1716" y2="126.5" stroke="#111" stroke-width="2.6"/>
<line x1="1716" y1="513.7" x2="1716" y2="505.7" stroke="#111" stroke-width="2.6"/>
<text x="1458.7" y="524.8" font-size="31.5" text-anchor="end">0</text>
<text x="1458.7" y="338.2" font-size="31.5" text-anchor="end">500</text>
<text x="1458.7" y="151.1" font-size="31.5" text-anchor="end">1000</text>
<text x="1466" y="556.5" font-size="31.5" text-anchor="middle">560</text>
<text x="1713.8" y="556.5" font-size="31.5" text-anchor="middle">610</text>
<text x="1957.4" y="556.5" font-size="31.5" text-anchor="middle">660</text>
<text transform="translate(1553,313.2) rotate(-90)" x="0" y="0" font-size="32" text-anchor="middle" fill="#b04ea8">1350 nm</text>
<text transform="translate(1599,239.6) rotate(-90)" x="0" y="0" font-size="32" text-anchor="middle" fill="#5cc4d6">1300 nm</text>
<text transform="translate(1635,202) rotate(-90)" x="0" y="0" font-size="32" text-anchor="middle" fill="#e5202a">1250 nm</text>
<text transform="translate(1747,187) rotate(-90)" x="0" y="0" font-size="32" text-anchor="middle" fill="#64b948">1200 nm</text>
<text transform="translate(1816.7,200.3) rotate(-90)" x="0" y="0" font-size="32" text-anchor="middle" fill="#333333">1150 nm</text>
<text transform="translate(1876.2,243.5) rotate(-90)" x="0" y="0" font-size="32" text-anchor="middle" fill="#2e47a0">1100 nm</text>
<path d="M1463.7,989.3 C1467.23,986.82 1477.2,980.22 1484.9,974.4 C1492.6,968.58 1501.58,961.47 1509.9,954.4 C1518.22,947.33 1526.48,940.32 1534.8,932 C1543.12,923.68 1551.48,914.07 1559.8,904.5 C1568.12,894.93 1576.38,885.4 1584.7,874.6 C1593.02,863.8 1601.38,851.33 1609.7,839.7 C1618.02,828.07 1626.28,816.03 1634.6,804.8 C1642.92,793.57 1652.53,781.35 1659.6,772.3 C1666.67,763.25 1670.77,756.63 1677,750.5 C1683.23,744.37 1690.35,738.83 1697,735.5 C1703.65,732.17 1710.67,730.75 1716.9,730.5 C1723.13,730.25 1727.33,730.35 1734.4,734 C1741.47,737.65 1750.98,745.18 1759.3,752.4 C1767.62,759.62 1775.98,767.73 1784.3,777.3 C1792.62,786.87 1800.88,798.57 1809.2,809.8 C1817.52,821.03 1825.88,833.07 1834.2,844.7 C1842.52,856.33 1850.8,868.38 1859.1,879.6 C1867.4,890.82 1879.02,905.97 1884,912 C1888.98,918.03 1888.17,915.17 1889,915.8" fill="none" stroke="#333" stroke-width="2.1"/>
<rect x="1464" y="710" width="425" height="391" fill="none" stroke="#111" stroke-width="3.4"/>
<line x1="1464" y1="927" x2="1470" y2="927" stroke="#111" stroke-width="3"/>
<line x1="1883" y1="927" x2="1889" y2="927" stroke="#111" stroke-width="3"/>
<line x1="1569.8" y1="710" x2="1569.8" y2="716" stroke="#111" stroke-width="2.6"/>
<line x1="1569.8" y1="1101" x2="1569.8" y2="1095" stroke="#111" stroke-width="2.6"/>
<line x1="1675.8" y1="710" x2="1675.8" y2="716" stroke="#111" stroke-width="2.6"/>
<line x1="1675.8" y1="1101" x2="1675.8" y2="1095" stroke="#111" stroke-width="2.6"/>
<line x1="1782.3" y1="710" x2="1782.3" y2="716" stroke="#111" stroke-width="2.6"/>
<line x1="1782.3" y1="1101" x2="1782.3" y2="1095" stroke="#111" stroke-width="2.6"/>
<ellipse cx="1464.5" cy="920" rx="5.1" ry="5.5" fill="#e8202a"/>
<ellipse cx="1569.8" cy="823.5" rx="5.1" ry="5.5" fill="#e8202a"/>
<ellipse cx="1676.5" cy="749.9" rx="5.1" ry="5.5" fill="#e8202a"/>
<ellipse cx="1781.8" cy="773.6" rx="5.1" ry="5.5" fill="#e8202a"/>
<ellipse cx="1888.5" cy="905.8" rx="5.1" ry="5.5" fill="#e8202a"/>
<line x1="1626.3" y1="928.7" x2="1805" y2="928.7" stroke="#1a1a1a" stroke-width="4"/>
<line x1="1629.2" y1="1051" x2="1807.9" y2="1051" stroke="#1a1a1a" stroke-width="4"/>
<line x1="1668.8" y1="1050" x2="1668.8" y2="1000" stroke="#1a1a1a" stroke-width="2.1"/>
<polygon points="1668.8,991 1676.8,1008.5 1668.8,1004 1660.8,1008.5" fill="#111"/>
<line x1="1668.8" y1="991" x2="1668.8" y2="940" stroke="#1a1a1a" stroke-width="2.1"/>
<polygon points="1668.8,931 1676.8,948.5 1668.8,944 1660.8,948.5" fill="#111"/>
<line x1="1629.2" y1="989.6" x2="1718.8" y2="989.6" stroke="#1a1a1a" stroke-width="2.3" stroke-dasharray="11,11" stroke-dashoffset="5.2"/>
<line x1="1721.2" y1="976.8" x2="1810.8" y2="976.8" stroke="#1a1a1a" stroke-width="2.3" stroke-dasharray="11,11" stroke-dashoffset="5.8"/>
<line x1="1765.8" y1="929" x2="1765.8" y2="966" stroke="#1a1a1a" stroke-width="2.1"/>
<polygon points="1765.8,975.3 1773.8,957.8 1765.8,962.3 1757.8,957.8" fill="#111"/>
<line x1="1765.8" y1="977" x2="1765.8" y2="1040" stroke="#e8202a" stroke-width="2.1"/>
<polygon points="1765.8,1050.4 1773.8,1032.9 1765.8,1037.4 1757.8,1032.9" fill="#e8202a"/>
<text x="1621.8" y="970.8" font-size="40" font-family="'Liberation Serif', 'Times New Roman', serif">ω</text>
<text x="1649.8" y="978.8" font-size="23" font-family="'Liberation Serif', 'Times New Roman', serif">1</text>
<text x="1621.8" y="1030.8" font-size="40" font-family="'Liberation Serif', 'Times New Roman', serif">ω</text>
<text x="1649.8" y="1037.6" font-size="23" font-family="'Liberation Serif', 'Times New Roman', serif">1</text>
<text x="1781.9" y="964.4" font-size="40" font-family="'Liberation Serif', 'Times New Roman', serif">ω</text>
<text x="1808.8" y="971.8" font-size="23" font-family="'Liberation Serif', 'Times New Roman', serif">2</text>
<text x="1784.8" y="1027.3" font-size="40" font-family="'Liberation Serif', 'Times New Roman', serif" fill="#e8202a">ω</text>
<text x="1811.85" y="1035" font-size="25" fill="#e8202a">s</text>
<text x="1453" y="722.3" font-size="31.5" text-anchor="end">500</text>
<text x="1453" y="935.8" font-size="31.5" text-anchor="end">250</text>
<text x="1453" y="1107.9" font-size="31.5" text-anchor="end">50</text>
<text x="1900.2" y="723.25" font-size="31.5">5.0</text>
<text x="1900.2" y="936.05" font-size="31.5">2.5</text>
<text x="1900.2" y="1107.75" font-size="31.5">0.5</text>
<text x="1463.65" y="1146.1" font-size="31.5" text-anchor="middle">1100</text>
<text x="1674.2" y="1146.1" font-size="31.5" text-anchor="middle">1200</text>
<text x="1884.4" y="1146.1" font-size="31.5" text-anchor="middle">1300</text>
<text transform="translate(1978,971.5) rotate(-90)" font-size="39">|E<tspan font-size="23">int</tspan>|<tspan font-size="24" dy="-18.9">2</tspan></text>
</svg>
</body></html>
